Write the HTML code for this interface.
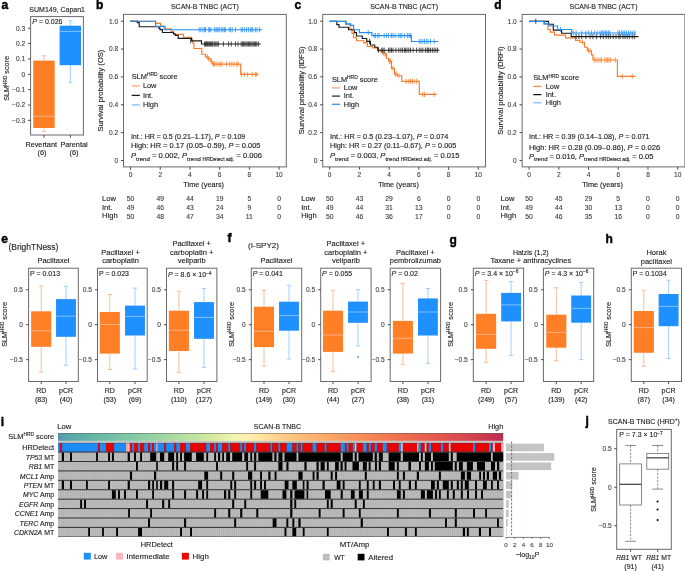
<!DOCTYPE html>
<html><head><meta charset="utf-8"><title>Figure</title>
<style>
html,body{margin:0;padding:0;background:#fff;width:685px;height:571px;overflow:hidden;}
svg{display:block;font-family:"Liberation Sans",sans-serif;will-change:transform;}
text:not([font-weight]):not([fill]){stroke:#2a2a2a;stroke-width:0.14px;}
text[fill="#3a3a3a"]{stroke:#3a3a3a;stroke-width:0.1px;}
</style></head><body>
<svg width="685" height="571" viewBox="0 0 685 571" fill="#1c1c1c">
<defs>
<linearGradient id="spec" x1="0" x2="1" y1="0" y2="0">
<stop offset="0.0000" stop-color="#5497AC"/>
<stop offset="0.0270" stop-color="#5BA6A9"/>
<stop offset="0.0831" stop-color="#66B8A6"/>
<stop offset="0.1617" stop-color="#82C8A5"/>
<stop offset="0.2291" stop-color="#9ED4A3"/>
<stop offset="0.3077" stop-color="#C2E3A1"/>
<stop offset="0.3639" stop-color="#DDEEA2"/>
<stop offset="0.3976" stop-color="#F2F5B0"/>
<stop offset="0.4200" stop-color="#FDF2B6"/>
<stop offset="0.4582" stop-color="#FEE3A0"/>
<stop offset="0.4987" stop-color="#FDCD88"/>
<stop offset="0.5885" stop-color="#FAAE6C"/>
<stop offset="0.6783" stop-color="#F68E58"/>
<stop offset="0.7682" stop-color="#EF704E"/>
<stop offset="0.8580" stop-color="#E3564F"/>
<stop offset="0.9479" stop-color="#D03E51"/>
<stop offset="1.0000" stop-color="#B82E4E"/>
</linearGradient>
</defs>
<text x="1.40" y="8.90" font-size="12" font-weight="bold" fill="#000" stroke="#000" stroke-width="0.45">a</text>
<text x="57.20" y="12.00" font-size="7" text-anchor="middle">SUM149, Capan1</text>
<line x1="44.00" y1="55.80" x2="44.00" y2="60.60" stroke="#FBB68C" stroke-width="0.9"/>
<line x1="44.00" y1="128.00" x2="44.00" y2="131.30" stroke="#FBB68C" stroke-width="0.9"/>
<line x1="41.85" y1="55.80" x2="46.15" y2="55.80" stroke="#FBB68C" stroke-width="0.9"/>
<line x1="41.85" y1="131.30" x2="46.15" y2="131.30" stroke="#FBB68C" stroke-width="0.9"/>
<rect x="33.20" y="60.60" width="21.50" height="67.40" fill="#FF7F27"/>
<line x1="33.20" y1="116.20" x2="54.70" y2="116.20" stroke="#FBB58A" stroke-width="0.9"/>
<line x1="70.40" y1="20.80" x2="70.40" y2="25.70" stroke="#98CAFF" stroke-width="0.9"/>
<line x1="70.40" y1="65.20" x2="70.40" y2="82.40" stroke="#98CAFF" stroke-width="0.9"/>
<line x1="68.25" y1="20.80" x2="72.55" y2="20.80" stroke="#98CAFF" stroke-width="0.9"/>
<line x1="68.25" y1="82.40" x2="72.55" y2="82.40" stroke="#98CAFF" stroke-width="0.9"/>
<rect x="59.60" y="25.70" width="21.40" height="39.50" fill="#1E90FF"/>
<line x1="59.60" y1="31.40" x2="81.00" y2="31.40" stroke="#8CC6FF" stroke-width="0.9"/>
<rect x="30.60" y="16.60" width="52.80" height="118.40" fill="none" stroke="#6a6a6a" stroke-width="1"/>
<line x1="28.00" y1="28.25" x2="30.60" y2="28.25" stroke="#3a3a3a" stroke-width="0.9"/>
<text x="25.10" y="30.65" font-size="6.6" text-anchor="end" fill="#3a3a3a">0.3</text>
<line x1="28.00" y1="43.60" x2="30.60" y2="43.60" stroke="#3a3a3a" stroke-width="0.9"/>
<text x="25.10" y="46.00" font-size="6.6" text-anchor="end" fill="#3a3a3a">0.2</text>
<line x1="28.00" y1="58.95" x2="30.60" y2="58.95" stroke="#3a3a3a" stroke-width="0.9"/>
<text x="25.10" y="61.35" font-size="6.6" text-anchor="end" fill="#3a3a3a">0.1</text>
<line x1="28.00" y1="74.30" x2="30.60" y2="74.30" stroke="#3a3a3a" stroke-width="0.9"/>
<text x="25.10" y="76.70" font-size="6.6" text-anchor="end" fill="#3a3a3a">0</text>
<line x1="28.00" y1="89.65" x2="30.60" y2="89.65" stroke="#3a3a3a" stroke-width="0.9"/>
<text x="25.10" y="92.05" font-size="6.6" text-anchor="end" fill="#3a3a3a">−0.1</text>
<line x1="28.00" y1="105.00" x2="30.60" y2="105.00" stroke="#3a3a3a" stroke-width="0.9"/>
<text x="25.10" y="107.40" font-size="6.6" text-anchor="end" fill="#3a3a3a">−0.2</text>
<line x1="28.00" y1="120.35" x2="30.60" y2="120.35" stroke="#3a3a3a" stroke-width="0.9"/>
<text x="25.10" y="122.75" font-size="6.6" text-anchor="end" fill="#3a3a3a">−0.3</text>
<line x1="44.00" y1="135.00" x2="44.00" y2="137.80" stroke="#3a3a3a" stroke-width="0.9"/>
<line x1="70.40" y1="135.00" x2="70.40" y2="137.80" stroke="#3a3a3a" stroke-width="0.9"/>
<text x="32.30" y="23.90" font-size="7"><tspan font-style="italic">P</tspan> = 0.026</text>
<text x="41.20" y="146.60" font-size="7.3" text-anchor="middle">Revertant</text>
<text x="42.00" y="155.20" font-size="7.3" text-anchor="middle">(6)</text>
<text x="74.00" y="146.60" font-size="7.3" text-anchor="middle">Parental</text>
<text x="74.00" y="155.20" font-size="7.3" text-anchor="middle">(6)</text>
<text transform="translate(9.20,78.40) rotate(-90)" font-size="7.2" text-anchor="middle">SLM<tspan dy="-2.7" font-size="4.75">HRD</tspan><tspan dy="2.7"> score</tspan></text>
<text x="96.00" y="8.80" font-size="12" font-weight="bold" fill="#000" stroke="#000" stroke-width="0.45">b</text>
<text x="204.90" y="9.20" font-size="7" text-anchor="middle">SCAN-B TNBC (ACT)</text>
<rect x="123.50" y="14.40" width="162.80" height="152.50" fill="none" stroke="#6a6a6a" stroke-width="1"/>
<line x1="120.90" y1="21.20" x2="123.50" y2="21.20" stroke="#3a3a3a" stroke-width="0.9"/>
<text x="118.10" y="23.60" font-size="6.6" text-anchor="end" fill="#3a3a3a">1.0</text>
<line x1="120.90" y1="49.05" x2="123.50" y2="49.05" stroke="#3a3a3a" stroke-width="0.9"/>
<text x="118.10" y="51.45" font-size="6.6" text-anchor="end" fill="#3a3a3a">0.8</text>
<line x1="120.90" y1="76.90" x2="123.50" y2="76.90" stroke="#3a3a3a" stroke-width="0.9"/>
<text x="118.10" y="79.30" font-size="6.6" text-anchor="end" fill="#3a3a3a">0.6</text>
<line x1="120.90" y1="104.75" x2="123.50" y2="104.75" stroke="#3a3a3a" stroke-width="0.9"/>
<text x="118.10" y="107.15" font-size="6.6" text-anchor="end" fill="#3a3a3a">0.4</text>
<line x1="120.90" y1="132.60" x2="123.50" y2="132.60" stroke="#3a3a3a" stroke-width="0.9"/>
<text x="118.10" y="135.00" font-size="6.6" text-anchor="end" fill="#3a3a3a">0.2</text>
<line x1="120.90" y1="160.45" x2="123.50" y2="160.45" stroke="#3a3a3a" stroke-width="0.9"/>
<text x="118.10" y="162.85" font-size="6.6" text-anchor="end" fill="#3a3a3a">0</text>
<line x1="130.50" y1="166.90" x2="130.50" y2="169.70" stroke="#3a3a3a" stroke-width="0.9"/>
<text x="130.50" y="176.60" font-size="6.6" text-anchor="middle" fill="#3a3a3a">0</text>
<line x1="160.22" y1="166.90" x2="160.22" y2="169.70" stroke="#3a3a3a" stroke-width="0.9"/>
<text x="160.22" y="176.60" font-size="6.6" text-anchor="middle" fill="#3a3a3a">2</text>
<line x1="189.94" y1="166.90" x2="189.94" y2="169.70" stroke="#3a3a3a" stroke-width="0.9"/>
<text x="189.94" y="176.60" font-size="6.6" text-anchor="middle" fill="#3a3a3a">4</text>
<line x1="219.66" y1="166.90" x2="219.66" y2="169.70" stroke="#3a3a3a" stroke-width="0.9"/>
<text x="219.66" y="176.60" font-size="6.6" text-anchor="middle" fill="#3a3a3a">6</text>
<line x1="249.38" y1="166.90" x2="249.38" y2="169.70" stroke="#3a3a3a" stroke-width="0.9"/>
<text x="249.38" y="176.60" font-size="6.6" text-anchor="middle" fill="#3a3a3a">8</text>
<line x1="279.10" y1="166.90" x2="279.10" y2="169.70" stroke="#3a3a3a" stroke-width="0.9"/>
<text x="279.10" y="176.60" font-size="6.6" text-anchor="middle" fill="#3a3a3a">10</text>
<text x="203.70" y="187.00" font-size="7.5" text-anchor="middle" textLength="40.7" lengthAdjust="spacingAndGlyphs">Time (years)</text>
<text transform="translate(103.00,90.60) rotate(-90)" font-size="7.3" text-anchor="middle" textLength="82.0" lengthAdjust="spacingAndGlyphs">Survival probability (OS)</text>
<path d="M130.30,21.20H155.60V23.40H160.60V26.30H165.30V28.80H171.10V31.40H173.50V34.30H183.40V37.20H191.60V40.10H192.70V43.00H193.90V48.50H201.80V54.20H205.50V56.80H208.10V58.90H210.80V61.50H212.30V64.10H240.70V74.40H258.60" fill="none" stroke="#FA7B28" stroke-width="1.15"/>
<path d="M130.30,21.20H137.30V22.60H139.20V26.70H158.90V28.10H160.00V29.60H162.40V32.50H173.50V33.70H175.20V35.40H178.20V38.40H191.60V40.90H201.50V44.00H260.70" fill="none" stroke="#1a1a1a" stroke-width="1.15"/>
<path d="M130.30,21.20H155.60V26.30H164.10V29.70H262.30" fill="none" stroke="#1E8EFA" stroke-width="1.15"/>
<path d="M207.30,54.20V59.40M208.60,56.30V61.50M211.20,58.90V64.10M213.40,61.50V66.70M214.40,61.50V66.70M216.00,61.50V66.70M218.10,61.50V66.70M220.20,61.50V66.70M221.80,61.50V66.70M226.50,61.50V66.70M229.70,61.50V66.70M231.80,61.50V66.70M233.90,61.50V66.70M236.50,61.50V66.70M238.10,61.50V66.70M241.40,71.80V77.00M244.40,71.80V77.00M247.60,71.80V77.00M252.30,71.80V77.00M255.40,71.80V77.00M256.30,71.80V77.00" stroke="#FA7B28" stroke-width="0.75" fill="none"/>
<path d="M190.60,38.30V43.50M204.50,41.40V46.60M205.50,41.40V46.60M206.50,41.40V46.60M207.50,41.40V46.60M208.60,41.40V46.60M209.60,41.40V46.60M210.60,41.40V46.60M211.60,41.40V46.60M212.60,41.40V46.60M214.00,41.40V46.60M215.00,41.40V46.60M216.00,41.40V46.60M217.20,41.40V46.60M218.40,41.40V46.60M223.40,41.40V46.60M228.60,41.40V46.60M231.30,41.40V46.60M235.50,41.40V46.60M238.00,41.40V46.60M241.20,41.40V46.60M242.40,41.40V46.60M243.60,41.40V46.60M244.80,41.40V46.60M246.00,41.40V46.60M247.20,41.40V46.60M248.40,41.40V46.60M249.60,41.40V46.60M250.80,41.40V46.60M252.00,41.40V46.60M253.20,41.40V46.60M254.40,41.40V46.60M255.60,41.40V46.60M256.80,41.40V46.60M258.40,41.40V46.60" stroke="#1a1a1a" stroke-width="0.75" fill="none"/>
<path d="M199.20,27.10V32.30M200.80,27.10V32.30M202.90,27.10V32.30M204.50,27.10V32.30M205.50,27.10V32.30M208.70,27.10V32.30M209.70,27.10V32.30M210.80,27.10V32.30M214.40,27.10V32.30M216.00,27.10V32.30M217.10,27.10V32.30M218.10,27.10V32.30M219.70,27.10V32.30M221.80,27.10V32.30M222.90,27.10V32.30M224.40,27.10V32.30M225.50,27.10V32.30M229.20,27.10V32.30M230.70,27.10V32.30M232.30,27.10V32.30M235.50,27.10V32.30M241.20,27.10V32.30M242.30,27.10V32.30M244.40,27.10V32.30M246.50,27.10V32.30M248.60,27.10V32.30M250.70,27.10V32.30M251.80,27.10V32.30M252.80,27.10V32.30M255.40,27.10V32.30M257.00,27.10V32.30M259.60,27.10V32.30" stroke="#1E8EFA" stroke-width="0.75" fill="none"/>
<text x="131.70" y="78.90" font-size="7.4">SLM<tspan dy="-2.7" font-size="4.88">HRD</tspan><tspan dy="2.7"> score</tspan></text>
<line x1="131.70" y1="85.90" x2="139.90" y2="85.90" stroke="#FCAA7A" stroke-width="1.3"/>
<text x="142.90" y="88.20" font-size="7.4">Low</text>
<line x1="131.70" y1="95.40" x2="139.90" y2="95.40" stroke="#1a1a1a" stroke-width="1.3"/>
<text x="142.90" y="97.70" font-size="7.4">Int.</text>
<line x1="131.70" y1="104.90" x2="139.90" y2="104.90" stroke="#7FBFFF" stroke-width="1.3"/>
<text x="142.90" y="107.20" font-size="7.4">High</text>
<text x="130.90" y="138.70" font-size="7.1" textLength="114.4" lengthAdjust="spacingAndGlyphs">Int.: HR = 0.5 (0.21–1.17), <tspan font-style="italic">P</tspan> = 0.109</text>
<text x="130.90" y="148.10" font-size="7.1" textLength="129.6" lengthAdjust="spacingAndGlyphs">High: HR = 0.17 (0.05–0.59), <tspan font-style="italic">P</tspan> = 0.005</text>
<text x="130.90" y="157.70" font-size="7.1" textLength="131.2" lengthAdjust="spacingAndGlyphs"><tspan font-style="italic">P</tspan><tspan dy="2.8" font-size="5.6">trend</tspan><tspan dy="-2.8"> = 0.002, </tspan><tspan font-style="italic">P</tspan><tspan dy="2.8" font-size="5.6">trend </tspan><tspan font-size="4.7">HRDetect adj.</tspan><tspan dy="-2.8"> = 0.006</tspan></text>
<text x="102.00" y="200.80" font-size="7.6">Low</text>
<text x="130.50" y="201.00" font-size="6.8" text-anchor="middle" fill="#3a3a3a">50</text>
<text x="160.22" y="201.00" font-size="6.8" text-anchor="middle" fill="#3a3a3a">49</text>
<text x="189.94" y="201.00" font-size="6.8" text-anchor="middle" fill="#3a3a3a">44</text>
<text x="219.66" y="201.00" font-size="6.8" text-anchor="middle" fill="#3a3a3a">19</text>
<text x="249.38" y="201.00" font-size="6.8" text-anchor="middle" fill="#3a3a3a">5</text>
<text x="279.10" y="201.00" font-size="6.8" text-anchor="middle" fill="#3a3a3a">0</text>
<text x="102.00" y="209.60" font-size="7.6">Int.</text>
<text x="130.50" y="209.80" font-size="6.8" text-anchor="middle" fill="#3a3a3a">49</text>
<text x="160.22" y="209.80" font-size="6.8" text-anchor="middle" fill="#3a3a3a">46</text>
<text x="189.94" y="209.80" font-size="6.8" text-anchor="middle" fill="#3a3a3a">43</text>
<text x="219.66" y="209.80" font-size="6.8" text-anchor="middle" fill="#3a3a3a">24</text>
<text x="249.38" y="209.80" font-size="6.8" text-anchor="middle" fill="#3a3a3a">9</text>
<text x="279.10" y="209.80" font-size="6.8" text-anchor="middle" fill="#3a3a3a">0</text>
<text x="102.00" y="218.40" font-size="7.6">High</text>
<text x="130.50" y="218.60" font-size="6.8" text-anchor="middle" fill="#3a3a3a">50</text>
<text x="160.22" y="218.60" font-size="6.8" text-anchor="middle" fill="#3a3a3a">48</text>
<text x="189.94" y="218.60" font-size="6.8" text-anchor="middle" fill="#3a3a3a">47</text>
<text x="219.66" y="218.60" font-size="6.8" text-anchor="middle" fill="#3a3a3a">34</text>
<text x="249.38" y="218.60" font-size="6.8" text-anchor="middle" fill="#3a3a3a">11</text>
<text x="279.10" y="218.60" font-size="6.8" text-anchor="middle" fill="#3a3a3a">0</text>
<text x="294.60" y="8.80" font-size="12" font-weight="bold" fill="#000" stroke="#000" stroke-width="0.45">c</text>
<text x="404.10" y="9.20" font-size="7" text-anchor="middle">SCAN-B TNBC (ACT)</text>
<rect x="322.70" y="14.40" width="162.80" height="152.50" fill="none" stroke="#6a6a6a" stroke-width="1"/>
<line x1="320.10" y1="21.20" x2="322.70" y2="21.20" stroke="#3a3a3a" stroke-width="0.9"/>
<text x="317.30" y="23.60" font-size="6.6" text-anchor="end" fill="#3a3a3a">1.0</text>
<line x1="320.10" y1="49.05" x2="322.70" y2="49.05" stroke="#3a3a3a" stroke-width="0.9"/>
<text x="317.30" y="51.45" font-size="6.6" text-anchor="end" fill="#3a3a3a">0.8</text>
<line x1="320.10" y1="76.90" x2="322.70" y2="76.90" stroke="#3a3a3a" stroke-width="0.9"/>
<text x="317.30" y="79.30" font-size="6.6" text-anchor="end" fill="#3a3a3a">0.6</text>
<line x1="320.10" y1="104.75" x2="322.70" y2="104.75" stroke="#3a3a3a" stroke-width="0.9"/>
<text x="317.30" y="107.15" font-size="6.6" text-anchor="end" fill="#3a3a3a">0.4</text>
<line x1="320.10" y1="132.60" x2="322.70" y2="132.60" stroke="#3a3a3a" stroke-width="0.9"/>
<text x="317.30" y="135.00" font-size="6.6" text-anchor="end" fill="#3a3a3a">0.2</text>
<line x1="320.10" y1="160.45" x2="322.70" y2="160.45" stroke="#3a3a3a" stroke-width="0.9"/>
<text x="317.30" y="162.85" font-size="6.6" text-anchor="end" fill="#3a3a3a">0</text>
<line x1="329.70" y1="166.90" x2="329.70" y2="169.70" stroke="#3a3a3a" stroke-width="0.9"/>
<text x="329.70" y="176.60" font-size="6.6" text-anchor="middle" fill="#3a3a3a">0</text>
<line x1="359.42" y1="166.90" x2="359.42" y2="169.70" stroke="#3a3a3a" stroke-width="0.9"/>
<text x="359.42" y="176.60" font-size="6.6" text-anchor="middle" fill="#3a3a3a">2</text>
<line x1="389.14" y1="166.90" x2="389.14" y2="169.70" stroke="#3a3a3a" stroke-width="0.9"/>
<text x="389.14" y="176.60" font-size="6.6" text-anchor="middle" fill="#3a3a3a">4</text>
<line x1="418.86" y1="166.90" x2="418.86" y2="169.70" stroke="#3a3a3a" stroke-width="0.9"/>
<text x="418.86" y="176.60" font-size="6.6" text-anchor="middle" fill="#3a3a3a">6</text>
<line x1="448.58" y1="166.90" x2="448.58" y2="169.70" stroke="#3a3a3a" stroke-width="0.9"/>
<text x="448.58" y="176.60" font-size="6.6" text-anchor="middle" fill="#3a3a3a">8</text>
<line x1="478.30" y1="166.90" x2="478.30" y2="169.70" stroke="#3a3a3a" stroke-width="0.9"/>
<text x="478.30" y="176.60" font-size="6.6" text-anchor="middle" fill="#3a3a3a">10</text>
<text x="398.50" y="187.00" font-size="7.5" text-anchor="middle" textLength="40.7" lengthAdjust="spacingAndGlyphs">Time (years)</text>
<text transform="translate(303.80,90.40) rotate(-90)" font-size="7.3" text-anchor="middle" textLength="87.8" lengthAdjust="spacingAndGlyphs">Survival probability (IDFS)</text>
<path d="M329.60,21.40H345.50V24.30H350.00V29.00H352.00V33.40H353.60V37.70H356.50V40.70H363.80V42.80H367.40V46.50H372.60V48.00H378.40V50.90H382.80V53.80H386.40V58.20H388.60V61.10H391.50V68.40H394.50V74.20H397.40V75.70H401.80V81.30H419.30V94.40H436.80" fill="none" stroke="#FA7B28" stroke-width="1.15"/>
<path d="M329.60,21.40H336.80V24.60H339.00V27.20H348.50V29.70H354.30V32.60H356.50V36.00H362.30V38.50H366.70V41.40H370.40V45.00H374.70V47.20H377.70V50.20H439.40" fill="none" stroke="#1a1a1a" stroke-width="1.15"/>
<path d="M329.60,21.40H346.30V23.90H350.70V25.30H353.60V29.70H359.40V32.60H371.80V35.60H411.40V41.50H438.20" fill="none" stroke="#1E8EFA" stroke-width="1.15"/>
<path d="M384.00,51.20V56.40M385.50,51.20V56.40M389.50,58.50V63.70M390.50,58.50V63.70M393.00,65.80V71.00M395.50,71.60V76.80M397.00,71.60V76.80M399.00,73.10V78.30M406.10,78.70V83.90M408.80,78.70V83.90M410.50,78.70V83.90M412.30,78.70V83.90M414.00,78.70V83.90M416.60,78.70V83.90M422.80,91.80V97.00M424.50,91.80V97.00M434.10,91.80V97.00" stroke="#FA7B28" stroke-width="0.75" fill="none"/>
<path d="M369.50,38.80V44.00M378.40,47.60V52.80M381.30,47.60V52.80M382.80,47.60V52.80M384.20,47.60V52.80M388.60,47.60V52.80M390.00,47.60V52.80M391.50,47.60V52.80M393.00,47.60V52.80M395.90,47.60V52.80M398.80,47.60V52.80M400.90,47.60V52.80M402.60,47.60V52.80M404.70,47.60V52.80M405.30,47.60V52.80M407.00,47.60V52.80M408.80,47.60V52.80M410.50,47.60V52.80M413.10,47.60V52.80M416.60,47.60V52.80M419.30,47.60V52.80M421.00,47.60V52.80M422.80,47.60V52.80M425.40,47.60V52.80M427.10,47.60V52.80M428.00,47.60V52.80M428.90,47.60V52.80M430.60,47.60V52.80M432.40,47.60V52.80M434.10,47.60V52.80M435.90,47.60V52.80M437.60,47.60V52.80" stroke="#1a1a1a" stroke-width="0.75" fill="none"/>
<path d="M368.20,30.00V35.20M374.00,33.00V38.20M375.50,33.00V38.20M377.70,33.00V38.20M379.10,33.00V38.20M384.20,33.00V38.20M386.40,33.00V38.20M388.60,33.00V38.20M391.50,33.00V38.20M393.00,33.00V38.20M395.20,33.00V38.20M398.80,33.00V38.20M400.30,33.00V38.20M401.80,33.00V38.20M404.70,33.00V38.20M407.60,33.00V38.20M409.10,33.00V38.20M410.50,33.00V38.20M419.30,38.90V44.10M421.00,38.90V44.10M422.80,38.90V44.10M424.50,38.90V44.10M426.30,38.90V44.10M428.00,38.90V44.10M430.60,38.90V44.10M434.10,38.90V44.10" stroke="#1E8EFA" stroke-width="0.75" fill="none"/>
<text x="331.90" y="81.70" font-size="7.4">SLM<tspan dy="-2.7" font-size="4.88">HRD</tspan><tspan dy="2.7"> score</tspan></text>
<line x1="331.90" y1="87.90" x2="340.10" y2="87.90" stroke="#FCAA7A" stroke-width="1.3"/>
<text x="343.80" y="90.20" font-size="7.4">Low</text>
<line x1="331.90" y1="96.10" x2="340.10" y2="96.10" stroke="#333333" stroke-width="1.3"/>
<text x="343.80" y="98.40" font-size="7.4">Int.</text>
<line x1="331.90" y1="104.30" x2="340.10" y2="104.30" stroke="#3594F5" stroke-width="1.3"/>
<text x="343.80" y="106.60" font-size="7.4">High</text>
<text x="329.90" y="138.70" font-size="7.1" textLength="118.5" lengthAdjust="spacingAndGlyphs">Int.: HR = 0.5 (0.23–1.07), <tspan font-style="italic">P</tspan> = 0.074</text>
<text x="329.90" y="148.10" font-size="7.1" textLength="126.5" lengthAdjust="spacingAndGlyphs">High: HR = 0.27 (0.11–0.67), <tspan font-style="italic">P</tspan> = 0.005</text>
<text x="329.90" y="157.70" font-size="7.1" textLength="129.6" lengthAdjust="spacingAndGlyphs"><tspan font-style="italic">P</tspan><tspan dy="2.8" font-size="5.6">trend</tspan><tspan dy="-2.8"> = 0.003, </tspan><tspan font-style="italic">P</tspan><tspan dy="2.8" font-size="5.6">trend </tspan><tspan font-size="4.7">HRDetect adj.</tspan><tspan dy="-2.8"> = 0.015</tspan></text>
<text x="301.20" y="200.80" font-size="7.6">Low</text>
<text x="329.70" y="201.00" font-size="6.8" text-anchor="middle" fill="#3a3a3a">50</text>
<text x="359.42" y="201.00" font-size="6.8" text-anchor="middle" fill="#3a3a3a">43</text>
<text x="389.14" y="201.00" font-size="6.8" text-anchor="middle" fill="#3a3a3a">29</text>
<text x="418.86" y="201.00" font-size="6.8" text-anchor="middle" fill="#3a3a3a">6</text>
<text x="448.58" y="201.00" font-size="6.8" text-anchor="middle" fill="#3a3a3a">0</text>
<text x="478.30" y="201.00" font-size="6.8" text-anchor="middle" fill="#3a3a3a">0</text>
<text x="301.20" y="209.60" font-size="7.6">Int.</text>
<text x="329.70" y="209.80" font-size="6.8" text-anchor="middle" fill="#3a3a3a">49</text>
<text x="359.42" y="209.80" font-size="6.8" text-anchor="middle" fill="#3a3a3a">44</text>
<text x="389.14" y="209.80" font-size="6.8" text-anchor="middle" fill="#3a3a3a">31</text>
<text x="418.86" y="209.80" font-size="6.8" text-anchor="middle" fill="#3a3a3a">13</text>
<text x="448.58" y="209.80" font-size="6.8" text-anchor="middle" fill="#3a3a3a">0</text>
<text x="478.30" y="209.80" font-size="6.8" text-anchor="middle" fill="#3a3a3a">0</text>
<text x="301.20" y="218.40" font-size="7.6">High</text>
<text x="329.70" y="218.60" font-size="6.8" text-anchor="middle" fill="#3a3a3a">50</text>
<text x="359.42" y="218.60" font-size="6.8" text-anchor="middle" fill="#3a3a3a">46</text>
<text x="389.14" y="218.60" font-size="6.8" text-anchor="middle" fill="#3a3a3a">36</text>
<text x="418.86" y="218.60" font-size="6.8" text-anchor="middle" fill="#3a3a3a">17</text>
<text x="448.58" y="218.60" font-size="6.8" text-anchor="middle" fill="#3a3a3a">0</text>
<text x="478.30" y="218.60" font-size="6.8" text-anchor="middle" fill="#3a3a3a">0</text>
<text x="494.20" y="8.80" font-size="12" font-weight="bold" fill="#000" stroke="#000" stroke-width="0.45">d</text>
<text x="603.50" y="9.20" font-size="7" text-anchor="middle">SCAN-B TNBC (ACT)</text>
<rect x="522.10" y="14.40" width="162.80" height="152.50" fill="none" stroke="#6a6a6a" stroke-width="1"/>
<line x1="519.50" y1="21.20" x2="522.10" y2="21.20" stroke="#3a3a3a" stroke-width="0.9"/>
<text x="516.70" y="23.60" font-size="6.6" text-anchor="end" fill="#3a3a3a">1.0</text>
<line x1="519.50" y1="49.05" x2="522.10" y2="49.05" stroke="#3a3a3a" stroke-width="0.9"/>
<text x="516.70" y="51.45" font-size="6.6" text-anchor="end" fill="#3a3a3a">0.8</text>
<line x1="519.50" y1="76.90" x2="522.10" y2="76.90" stroke="#3a3a3a" stroke-width="0.9"/>
<text x="516.70" y="79.30" font-size="6.6" text-anchor="end" fill="#3a3a3a">0.6</text>
<line x1="519.50" y1="104.75" x2="522.10" y2="104.75" stroke="#3a3a3a" stroke-width="0.9"/>
<text x="516.70" y="107.15" font-size="6.6" text-anchor="end" fill="#3a3a3a">0.4</text>
<line x1="519.50" y1="132.60" x2="522.10" y2="132.60" stroke="#3a3a3a" stroke-width="0.9"/>
<text x="516.70" y="135.00" font-size="6.6" text-anchor="end" fill="#3a3a3a">0.2</text>
<line x1="519.50" y1="160.45" x2="522.10" y2="160.45" stroke="#3a3a3a" stroke-width="0.9"/>
<text x="516.70" y="162.85" font-size="6.6" text-anchor="end" fill="#3a3a3a">0</text>
<line x1="529.10" y1="166.90" x2="529.10" y2="169.70" stroke="#3a3a3a" stroke-width="0.9"/>
<text x="529.10" y="176.60" font-size="6.6" text-anchor="middle" fill="#3a3a3a">0</text>
<line x1="558.82" y1="166.90" x2="558.82" y2="169.70" stroke="#3a3a3a" stroke-width="0.9"/>
<text x="558.82" y="176.60" font-size="6.6" text-anchor="middle" fill="#3a3a3a">2</text>
<line x1="588.54" y1="166.90" x2="588.54" y2="169.70" stroke="#3a3a3a" stroke-width="0.9"/>
<text x="588.54" y="176.60" font-size="6.6" text-anchor="middle" fill="#3a3a3a">4</text>
<line x1="618.26" y1="166.90" x2="618.26" y2="169.70" stroke="#3a3a3a" stroke-width="0.9"/>
<text x="618.26" y="176.60" font-size="6.6" text-anchor="middle" fill="#3a3a3a">6</text>
<line x1="647.98" y1="166.90" x2="647.98" y2="169.70" stroke="#3a3a3a" stroke-width="0.9"/>
<text x="647.98" y="176.60" font-size="6.6" text-anchor="middle" fill="#3a3a3a">8</text>
<line x1="677.70" y1="166.90" x2="677.70" y2="169.70" stroke="#3a3a3a" stroke-width="0.9"/>
<text x="677.70" y="176.60" font-size="6.6" text-anchor="middle" fill="#3a3a3a">10</text>
<text x="602.50" y="187.00" font-size="7.5" text-anchor="middle" textLength="40.7" lengthAdjust="spacingAndGlyphs">Time (years)</text>
<text transform="translate(503.30,90.65) rotate(-90)" font-size="7.3" text-anchor="middle" textLength="88.3" lengthAdjust="spacingAndGlyphs">Survival probability (DRFI)</text>
<path d="M529.20,21.30H543.60V23.80H548.00V29.50H550.20V32.10H554.60V35.10H565.50V37.80H575.60V40.40H580.00V42.20H584.50V47.20H587.30V50.70H591.50V54.90H592.90V60.00H617.40V76.40H635.70" fill="none" stroke="#FA7B28" stroke-width="1.15"/>
<path d="M529.20,21.30H548.50V24.20H553.30V30.10H561.60V33.20H571.20V36.60H638.50" fill="none" stroke="#1a1a1a" stroke-width="1.15"/>
<path d="M529.20,21.30H544.50V23.80H549.30V26.00H557.70V29.50H571.70V33.00H635.70" fill="none" stroke="#1E8EFA" stroke-width="1.15"/>
<path d="M582.50,39.60V44.80M588.50,48.10V53.30M590.00,48.10V53.30M594.30,57.40V62.60M596.00,57.40V62.60M598.00,57.40V62.60M600.00,57.40V62.60M601.50,57.40V62.60M604.80,57.40V62.60M606.20,57.40V62.60M607.60,57.40V62.60M609.00,57.40V62.60M610.40,57.40V62.60M615.30,57.40V62.60M622.30,73.80V79.00M632.20,73.80V79.00" stroke="#FA7B28" stroke-width="0.75" fill="none"/>
<path d="M535.80,18.70V23.90M576.10,34.00V39.20M578.90,34.00V39.20M581.70,34.00V39.20M585.90,34.00V39.20M590.10,34.00V39.20M592.90,34.00V39.20M596.40,34.00V39.20M600.60,34.00V39.20M603.40,34.00V39.20M606.20,34.00V39.20M608.30,34.00V39.20M610.40,34.00V39.20M613.20,34.00V39.20M616.00,34.00V39.20M618.80,34.00V39.20M620.20,34.00V39.20M623.00,34.00V39.20M625.10,34.00V39.20M627.20,34.00V39.20M629.30,34.00V39.20M632.20,34.00V39.20M634.30,34.00V39.20" stroke="#1a1a1a" stroke-width="0.75" fill="none"/>
<path d="M560.50,26.90V32.10M573.30,30.40V35.60M576.10,30.40V35.60M581.70,30.40V35.60M585.90,30.40V35.60M588.70,30.40V35.60M591.50,30.40V35.60M594.30,30.40V35.60M597.10,30.40V35.60M599.90,30.40V35.60M601.30,30.40V35.60M602.70,30.40V35.60M604.10,30.40V35.60M605.50,30.40V35.60M606.90,30.40V35.60M608.30,30.40V35.60M609.70,30.40V35.60M618.10,30.40V35.60M619.50,30.40V35.60M621.60,30.40V35.60M623.00,30.40V35.60M624.40,30.40V35.60M626.50,30.40V35.60M628.60,30.40V35.60M630.70,30.40V35.60M632.90,30.40V35.60M635.00,30.40V35.60" stroke="#1E8EFA" stroke-width="0.75" fill="none"/>
<text x="533.20" y="80.20" font-size="7.4">SLM<tspan dy="-2.7" font-size="4.88">HRD</tspan><tspan dy="2.7"> score</tspan></text>
<line x1="533.20" y1="86.40" x2="541.40" y2="86.40" stroke="#F68C44" stroke-width="1.3"/>
<text x="545.70" y="88.70" font-size="7.4">Low</text>
<line x1="533.20" y1="94.60" x2="541.40" y2="94.60" stroke="#1a1a1a" stroke-width="1.3"/>
<text x="545.70" y="96.90" font-size="7.4">Int.</text>
<line x1="533.20" y1="102.80" x2="541.40" y2="102.80" stroke="#7FBFFF" stroke-width="1.3"/>
<text x="545.70" y="105.10" font-size="7.4">High</text>
<text x="528.90" y="138.70" font-size="7.1" textLength="120.6" lengthAdjust="spacingAndGlyphs">Int.: HR = 0.39 (0.14–1.08), <tspan font-style="italic">P</tspan> = 0.071</text>
<text x="528.90" y="149.50" font-size="7.1" textLength="131.2" lengthAdjust="spacingAndGlyphs">High: HR = 0.28 (0.09–0.86), <tspan font-style="italic">P</tspan> = 0.026</text>
<text x="528.90" y="158.60" font-size="7.1" textLength="124.6" lengthAdjust="spacingAndGlyphs"><tspan font-style="italic">P</tspan><tspan dy="2.8" font-size="5.6">trend</tspan><tspan dy="-2.8"> = 0.016, </tspan><tspan font-style="italic">P</tspan><tspan dy="2.8" font-size="5.6">trend </tspan><tspan font-size="4.7">HRDetect adj.</tspan><tspan dy="-2.8"> = 0.05</tspan></text>
<text x="500.60" y="200.80" font-size="7.6">Low</text>
<text x="529.10" y="201.00" font-size="6.8" text-anchor="middle" fill="#3a3a3a">50</text>
<text x="558.82" y="201.00" font-size="6.8" text-anchor="middle" fill="#3a3a3a">45</text>
<text x="588.54" y="201.00" font-size="6.8" text-anchor="middle" fill="#3a3a3a">29</text>
<text x="618.26" y="201.00" font-size="6.8" text-anchor="middle" fill="#3a3a3a">5</text>
<text x="647.98" y="201.00" font-size="6.8" text-anchor="middle" fill="#3a3a3a">0</text>
<text x="677.70" y="201.00" font-size="6.8" text-anchor="middle" fill="#3a3a3a">0</text>
<text x="500.60" y="209.60" font-size="7.6">Int.</text>
<text x="529.10" y="209.80" font-size="6.8" text-anchor="middle" fill="#3a3a3a">49</text>
<text x="558.82" y="209.80" font-size="6.8" text-anchor="middle" fill="#3a3a3a">44</text>
<text x="588.54" y="209.80" font-size="6.8" text-anchor="middle" fill="#3a3a3a">30</text>
<text x="618.26" y="209.80" font-size="6.8" text-anchor="middle" fill="#3a3a3a">13</text>
<text x="647.98" y="209.80" font-size="6.8" text-anchor="middle" fill="#3a3a3a">0</text>
<text x="677.70" y="209.80" font-size="6.8" text-anchor="middle" fill="#3a3a3a">0</text>
<text x="500.60" y="218.40" font-size="7.6">High</text>
<text x="529.10" y="218.60" font-size="6.8" text-anchor="middle" fill="#3a3a3a">50</text>
<text x="558.82" y="218.60" font-size="6.8" text-anchor="middle" fill="#3a3a3a">46</text>
<text x="588.54" y="218.60" font-size="6.8" text-anchor="middle" fill="#3a3a3a">35</text>
<text x="618.26" y="218.60" font-size="6.8" text-anchor="middle" fill="#3a3a3a">16</text>
<text x="647.98" y="218.60" font-size="6.8" text-anchor="middle" fill="#3a3a3a">0</text>
<text x="677.70" y="218.60" font-size="6.8" text-anchor="middle" fill="#3a3a3a">0</text>
<text x="1.20" y="242.60" font-size="12" font-weight="bold" fill="#000" stroke="#000" stroke-width="0.45">e</text>
<text x="8.40" y="249.60" font-size="8.5">(BrighTNess)</text>
<text transform="translate(6.70,324.40) rotate(-90)" font-size="7.2" text-anchor="middle">SLM<tspan dy="-2.7" font-size="4.75">HRD</tspan><tspan dy="2.7"> score</tspan></text>
<text x="53.45" y="263.00" font-size="7.5" text-anchor="middle">Paclitaxel</text>
<line x1="41.20" y1="286.00" x2="41.20" y2="311.30" stroke="#FBB68C" stroke-width="0.9"/>
<line x1="41.20" y1="346.80" x2="41.20" y2="372.20" stroke="#FBB68C" stroke-width="0.9"/>
<line x1="39.00" y1="286.00" x2="43.40" y2="286.00" stroke="#FBB68C" stroke-width="0.9"/>
<line x1="39.00" y1="372.20" x2="43.40" y2="372.20" stroke="#FBB68C" stroke-width="0.9"/>
<rect x="31.15" y="311.30" width="20.10" height="35.50" fill="#FF7F27"/>
<line x1="31.15" y1="330.70" x2="51.25" y2="330.70" stroke="#FBB58A" stroke-width="0.9"/>
<line x1="66.00" y1="286.30" x2="66.00" y2="299.10" stroke="#98CAFF" stroke-width="0.9"/>
<line x1="66.00" y1="336.80" x2="66.00" y2="365.30" stroke="#98CAFF" stroke-width="0.9"/>
<line x1="63.80" y1="286.30" x2="68.20" y2="286.30" stroke="#98CAFF" stroke-width="0.9"/>
<line x1="63.80" y1="365.30" x2="68.20" y2="365.30" stroke="#98CAFF" stroke-width="0.9"/>
<rect x="56.05" y="299.10" width="19.90" height="37.70" fill="#1E90FF"/>
<line x1="56.05" y1="316.20" x2="75.95" y2="316.20" stroke="#8CC6FF" stroke-width="0.9"/>
<rect x="28.60" y="268.20" width="49.70" height="113.30" fill="none" stroke="#6a6a6a" stroke-width="1"/>
<line x1="26.10" y1="289.75" x2="28.60" y2="289.75" stroke="#3a3a3a" stroke-width="0.9"/>
<text x="23.00" y="292.15" font-size="6.6" text-anchor="end" fill="#3a3a3a">0.5</text>
<line x1="26.10" y1="324.70" x2="28.60" y2="324.70" stroke="#3a3a3a" stroke-width="0.9"/>
<text x="23.00" y="327.10" font-size="6.6" text-anchor="end" fill="#3a3a3a">0</text>
<line x1="26.10" y1="359.65" x2="28.60" y2="359.65" stroke="#3a3a3a" stroke-width="0.9"/>
<text x="23.00" y="362.05" font-size="6.6" text-anchor="end" fill="#3a3a3a">−0.5</text>
<line x1="41.20" y1="381.50" x2="41.20" y2="384.10" stroke="#3a3a3a" stroke-width="0.9"/>
<line x1="66.00" y1="381.50" x2="66.00" y2="384.10" stroke="#3a3a3a" stroke-width="0.9"/>
<text x="41.20" y="392.90" font-size="7" text-anchor="middle">RD</text>
<text x="66.00" y="392.90" font-size="7" text-anchor="middle">pCR</text>
<text x="41.20" y="401.50" font-size="7" text-anchor="middle">(83)</text>
<text x="66.00" y="401.50" font-size="7" text-anchor="middle">(40)</text>
<text x="30.00" y="275.60" font-size="7">P = 0.013</text>
<text x="120.55" y="254.70" font-size="7.5" text-anchor="middle">Paclitaxel +</text>
<text x="120.55" y="263.00" font-size="7.5" text-anchor="middle">carboplatin</text>
<line x1="109.80" y1="294.60" x2="109.80" y2="312.00" stroke="#FBB68C" stroke-width="0.9"/>
<line x1="109.80" y1="353.60" x2="109.80" y2="369.60" stroke="#FBB68C" stroke-width="0.9"/>
<line x1="107.60" y1="294.60" x2="112.00" y2="294.60" stroke="#FBB68C" stroke-width="0.9"/>
<line x1="107.60" y1="369.60" x2="112.00" y2="369.60" stroke="#FBB68C" stroke-width="0.9"/>
<rect x="99.75" y="312.00" width="20.10" height="41.60" fill="#FF7F27"/>
<line x1="99.75" y1="324.50" x2="119.85" y2="324.50" stroke="#FBB58A" stroke-width="0.9"/>
<line x1="135.00" y1="288.10" x2="135.00" y2="305.60" stroke="#98CAFF" stroke-width="0.9"/>
<line x1="135.00" y1="335.50" x2="135.00" y2="369.00" stroke="#98CAFF" stroke-width="0.9"/>
<line x1="132.80" y1="288.10" x2="137.20" y2="288.10" stroke="#98CAFF" stroke-width="0.9"/>
<line x1="132.80" y1="369.00" x2="137.20" y2="369.00" stroke="#98CAFF" stroke-width="0.9"/>
<rect x="125.05" y="305.60" width="19.90" height="29.90" fill="#1E90FF"/>
<line x1="125.05" y1="316.40" x2="144.95" y2="316.40" stroke="#8CC6FF" stroke-width="0.9"/>
<rect x="97.50" y="268.20" width="49.70" height="113.30" fill="none" stroke="#6a6a6a" stroke-width="1"/>
<line x1="95.00" y1="289.75" x2="97.50" y2="289.75" stroke="#3a3a3a" stroke-width="0.9"/>
<text x="91.90" y="292.15" font-size="6.6" text-anchor="end" fill="#3a3a3a">0.5</text>
<line x1="95.00" y1="324.70" x2="97.50" y2="324.70" stroke="#3a3a3a" stroke-width="0.9"/>
<text x="91.90" y="327.10" font-size="6.6" text-anchor="end" fill="#3a3a3a">0</text>
<line x1="95.00" y1="359.65" x2="97.50" y2="359.65" stroke="#3a3a3a" stroke-width="0.9"/>
<text x="91.90" y="362.05" font-size="6.6" text-anchor="end" fill="#3a3a3a">−0.5</text>
<line x1="109.80" y1="381.50" x2="109.80" y2="384.10" stroke="#3a3a3a" stroke-width="0.9"/>
<line x1="135.00" y1="381.50" x2="135.00" y2="384.10" stroke="#3a3a3a" stroke-width="0.9"/>
<text x="109.80" y="392.90" font-size="7" text-anchor="middle">RD</text>
<text x="135.00" y="392.90" font-size="7" text-anchor="middle">pCR</text>
<text x="109.80" y="401.50" font-size="7" text-anchor="middle">(53)</text>
<text x="135.00" y="401.50" font-size="7" text-anchor="middle">(69)</text>
<text x="98.90" y="275.60" font-size="7">P = 0.023</text>
<text x="191.70" y="246.40" font-size="7.5" text-anchor="middle">Paclitaxel +</text>
<text x="191.70" y="254.70" font-size="7.5" text-anchor="middle">carboplatin +</text>
<text x="191.70" y="263.00" font-size="7.5" text-anchor="middle">veliparib</text>
<line x1="178.90" y1="291.30" x2="178.90" y2="310.70" stroke="#FBB68C" stroke-width="0.9"/>
<line x1="178.90" y1="351.00" x2="178.90" y2="372.30" stroke="#FBB68C" stroke-width="0.9"/>
<line x1="176.70" y1="291.30" x2="181.10" y2="291.30" stroke="#FBB68C" stroke-width="0.9"/>
<line x1="176.70" y1="372.30" x2="181.10" y2="372.30" stroke="#FBB68C" stroke-width="0.9"/>
<rect x="168.85" y="310.70" width="20.10" height="40.30" fill="#FF7F27"/>
<line x1="168.85" y1="330.20" x2="188.95" y2="330.20" stroke="#FBB58A" stroke-width="0.9"/>
<line x1="204.00" y1="288.50" x2="204.00" y2="302.10" stroke="#98CAFF" stroke-width="0.9"/>
<line x1="204.00" y1="338.80" x2="204.00" y2="367.40" stroke="#98CAFF" stroke-width="0.9"/>
<line x1="201.80" y1="288.50" x2="206.20" y2="288.50" stroke="#98CAFF" stroke-width="0.9"/>
<line x1="201.80" y1="367.40" x2="206.20" y2="367.40" stroke="#98CAFF" stroke-width="0.9"/>
<rect x="194.05" y="302.10" width="19.90" height="36.70" fill="#1E90FF"/>
<line x1="194.05" y1="317.40" x2="213.95" y2="317.40" stroke="#8CC6FF" stroke-width="0.9"/>
<rect x="166.50" y="268.20" width="50.40" height="113.30" fill="none" stroke="#6a6a6a" stroke-width="1"/>
<line x1="164.00" y1="289.75" x2="166.50" y2="289.75" stroke="#3a3a3a" stroke-width="0.9"/>
<text x="160.90" y="292.15" font-size="6.6" text-anchor="end" fill="#3a3a3a">0.5</text>
<line x1="164.00" y1="324.70" x2="166.50" y2="324.70" stroke="#3a3a3a" stroke-width="0.9"/>
<text x="160.90" y="327.10" font-size="6.6" text-anchor="end" fill="#3a3a3a">0</text>
<line x1="164.00" y1="359.65" x2="166.50" y2="359.65" stroke="#3a3a3a" stroke-width="0.9"/>
<text x="160.90" y="362.05" font-size="6.6" text-anchor="end" fill="#3a3a3a">−0.5</text>
<line x1="178.90" y1="381.50" x2="178.90" y2="384.10" stroke="#3a3a3a" stroke-width="0.9"/>
<line x1="204.00" y1="381.50" x2="204.00" y2="384.10" stroke="#3a3a3a" stroke-width="0.9"/>
<text x="178.90" y="392.90" font-size="7" text-anchor="middle">RD</text>
<text x="204.00" y="392.90" font-size="7" text-anchor="middle">pCR</text>
<text x="178.90" y="401.50" font-size="7" text-anchor="middle">(110)</text>
<text x="204.00" y="401.50" font-size="7" text-anchor="middle">(127)</text>
<text x="167.90" y="277.40" font-size="7"><tspan font-style="italic">P</tspan> = 8.6 × 10<tspan dy="-2.6" font-size="4.8">−4</tspan></text>
<text x="227.60" y="242.30" font-size="12" font-weight="bold" fill="#000" stroke="#000" stroke-width="0.45">f</text>
<text x="248.00" y="247.80" font-size="8.1">(I-SPY2)</text>
<text transform="translate(233.70,324.40) rotate(-90)" font-size="7.2" text-anchor="middle">SLM<tspan dy="-2.7" font-size="4.75">HRD</tspan><tspan dy="2.7"> score</tspan></text>
<text x="276.50" y="263.00" font-size="7.5" text-anchor="middle">Paclitaxel</text>
<line x1="264.00" y1="290.30" x2="264.00" y2="306.70" stroke="#FBB68C" stroke-width="0.9"/>
<line x1="264.00" y1="347.10" x2="264.00" y2="366.10" stroke="#FBB68C" stroke-width="0.9"/>
<line x1="261.80" y1="290.30" x2="266.20" y2="290.30" stroke="#FBB68C" stroke-width="0.9"/>
<line x1="261.80" y1="366.10" x2="266.20" y2="366.10" stroke="#FBB68C" stroke-width="0.9"/>
<rect x="253.95" y="306.70" width="20.10" height="40.40" fill="#FF7F27"/>
<line x1="253.95" y1="331.30" x2="274.05" y2="331.30" stroke="#FBB58A" stroke-width="0.9"/>
<line x1="289.00" y1="285.20" x2="289.00" y2="301.70" stroke="#98CAFF" stroke-width="0.9"/>
<line x1="289.00" y1="330.70" x2="289.00" y2="359.10" stroke="#98CAFF" stroke-width="0.9"/>
<line x1="286.80" y1="285.20" x2="291.20" y2="285.20" stroke="#98CAFF" stroke-width="0.9"/>
<line x1="286.80" y1="359.10" x2="291.20" y2="359.10" stroke="#98CAFF" stroke-width="0.9"/>
<rect x="279.05" y="301.70" width="19.90" height="29.00" fill="#1E90FF"/>
<line x1="279.05" y1="315.60" x2="298.95" y2="315.60" stroke="#8CC6FF" stroke-width="0.9"/>
<rect x="251.30" y="268.20" width="50.40" height="113.30" fill="none" stroke="#6a6a6a" stroke-width="1"/>
<line x1="248.80" y1="289.75" x2="251.30" y2="289.75" stroke="#3a3a3a" stroke-width="0.9"/>
<text x="245.70" y="292.15" font-size="6.6" text-anchor="end" fill="#3a3a3a">0.5</text>
<line x1="248.80" y1="324.70" x2="251.30" y2="324.70" stroke="#3a3a3a" stroke-width="0.9"/>
<text x="245.70" y="327.10" font-size="6.6" text-anchor="end" fill="#3a3a3a">0</text>
<line x1="248.80" y1="359.65" x2="251.30" y2="359.65" stroke="#3a3a3a" stroke-width="0.9"/>
<text x="245.70" y="362.05" font-size="6.6" text-anchor="end" fill="#3a3a3a">−0.5</text>
<line x1="264.00" y1="381.50" x2="264.00" y2="384.10" stroke="#3a3a3a" stroke-width="0.9"/>
<line x1="289.00" y1="381.50" x2="289.00" y2="384.10" stroke="#3a3a3a" stroke-width="0.9"/>
<text x="264.00" y="392.90" font-size="7" text-anchor="middle">RD</text>
<text x="289.00" y="392.90" font-size="7" text-anchor="middle">pCR</text>
<text x="264.00" y="401.50" font-size="7" text-anchor="middle">(149)</text>
<text x="289.00" y="401.50" font-size="7" text-anchor="middle">(30)</text>
<text x="252.70" y="275.60" font-size="7"><tspan font-style="italic">P</tspan> = 0.041</text>
<text x="345.90" y="246.40" font-size="7.5" text-anchor="middle">Paclitaxel +</text>
<text x="345.90" y="254.70" font-size="7.5" text-anchor="middle">carboplatin +</text>
<text x="345.90" y="263.00" font-size="7.5" text-anchor="middle">veliparib</text>
<line x1="333.00" y1="290.30" x2="333.00" y2="310.70" stroke="#FBB68C" stroke-width="0.9"/>
<line x1="333.00" y1="351.90" x2="333.00" y2="371.60" stroke="#FBB68C" stroke-width="0.9"/>
<line x1="330.80" y1="290.30" x2="335.20" y2="290.30" stroke="#FBB68C" stroke-width="0.9"/>
<line x1="330.80" y1="371.60" x2="335.20" y2="371.60" stroke="#FBB68C" stroke-width="0.9"/>
<rect x="322.95" y="310.70" width="20.10" height="41.20" fill="#FF7F27"/>
<line x1="322.95" y1="335.00" x2="343.05" y2="335.00" stroke="#FBB58A" stroke-width="0.9"/>
<line x1="358.00" y1="289.60" x2="358.00" y2="301.60" stroke="#98CAFF" stroke-width="0.9"/>
<line x1="358.00" y1="322.80" x2="358.00" y2="346.00" stroke="#98CAFF" stroke-width="0.9"/>
<line x1="355.80" y1="289.60" x2="360.20" y2="289.60" stroke="#98CAFF" stroke-width="0.9"/>
<line x1="355.80" y1="346.00" x2="360.20" y2="346.00" stroke="#98CAFF" stroke-width="0.9"/>
<rect x="348.05" y="301.60" width="19.90" height="21.20" fill="#1E90FF"/>
<line x1="348.05" y1="312.00" x2="367.95" y2="312.00" stroke="#8CC6FF" stroke-width="0.9"/>
<circle cx="358.00" cy="356.90" r="0.9" fill="#1E90FF"/>
<rect x="320.70" y="268.20" width="50.40" height="113.30" fill="none" stroke="#6a6a6a" stroke-width="1"/>
<line x1="318.20" y1="289.75" x2="320.70" y2="289.75" stroke="#3a3a3a" stroke-width="0.9"/>
<text x="315.10" y="292.15" font-size="6.6" text-anchor="end" fill="#3a3a3a">0.5</text>
<line x1="318.20" y1="324.70" x2="320.70" y2="324.70" stroke="#3a3a3a" stroke-width="0.9"/>
<text x="315.10" y="327.10" font-size="6.6" text-anchor="end" fill="#3a3a3a">0</text>
<line x1="318.20" y1="359.65" x2="320.70" y2="359.65" stroke="#3a3a3a" stroke-width="0.9"/>
<text x="315.10" y="362.05" font-size="6.6" text-anchor="end" fill="#3a3a3a">−0.5</text>
<line x1="333.00" y1="381.50" x2="333.00" y2="384.10" stroke="#3a3a3a" stroke-width="0.9"/>
<line x1="358.00" y1="381.50" x2="358.00" y2="384.10" stroke="#3a3a3a" stroke-width="0.9"/>
<text x="333.00" y="392.90" font-size="7" text-anchor="middle">RD</text>
<text x="358.00" y="392.90" font-size="7" text-anchor="middle">pCR</text>
<text x="333.00" y="401.50" font-size="7" text-anchor="middle">(44)</text>
<text x="358.00" y="401.50" font-size="7" text-anchor="middle">(27)</text>
<text x="322.10" y="275.60" font-size="7"><tspan font-style="italic">P</tspan> = 0.055</text>
<text x="415.40" y="254.70" font-size="7.5" text-anchor="middle">Paclitaxel +</text>
<text x="415.40" y="263.00" font-size="7.5" text-anchor="middle">pembrolizumab</text>
<line x1="402.90" y1="283.50" x2="402.90" y2="320.90" stroke="#FBB68C" stroke-width="0.9"/>
<line x1="402.90" y1="353.60" x2="402.90" y2="364.60" stroke="#FBB68C" stroke-width="0.9"/>
<line x1="400.70" y1="283.50" x2="405.10" y2="283.50" stroke="#FBB68C" stroke-width="0.9"/>
<line x1="400.70" y1="364.60" x2="405.10" y2="364.60" stroke="#FBB68C" stroke-width="0.9"/>
<rect x="392.85" y="320.90" width="20.10" height="32.70" fill="#FF7F27"/>
<line x1="392.85" y1="338.30" x2="412.95" y2="338.30" stroke="#FBB58A" stroke-width="0.9"/>
<line x1="427.90" y1="288.50" x2="427.90" y2="298.40" stroke="#98CAFF" stroke-width="0.9"/>
<line x1="427.90" y1="335.50" x2="427.90" y2="363.50" stroke="#98CAFF" stroke-width="0.9"/>
<line x1="425.70" y1="288.50" x2="430.10" y2="288.50" stroke="#98CAFF" stroke-width="0.9"/>
<line x1="425.70" y1="363.50" x2="430.10" y2="363.50" stroke="#98CAFF" stroke-width="0.9"/>
<rect x="417.95" y="298.40" width="19.90" height="37.10" fill="#1E90FF"/>
<line x1="417.95" y1="312.00" x2="437.85" y2="312.00" stroke="#8CC6FF" stroke-width="0.9"/>
<rect x="390.20" y="268.20" width="50.40" height="113.30" fill="none" stroke="#6a6a6a" stroke-width="1"/>
<line x1="387.70" y1="289.75" x2="390.20" y2="289.75" stroke="#3a3a3a" stroke-width="0.9"/>
<text x="384.60" y="292.15" font-size="6.6" text-anchor="end" fill="#3a3a3a">0.5</text>
<line x1="387.70" y1="324.70" x2="390.20" y2="324.70" stroke="#3a3a3a" stroke-width="0.9"/>
<text x="384.60" y="327.10" font-size="6.6" text-anchor="end" fill="#3a3a3a">0</text>
<line x1="387.70" y1="359.65" x2="390.20" y2="359.65" stroke="#3a3a3a" stroke-width="0.9"/>
<text x="384.60" y="362.05" font-size="6.6" text-anchor="end" fill="#3a3a3a">−0.5</text>
<line x1="402.90" y1="381.50" x2="402.90" y2="384.10" stroke="#3a3a3a" stroke-width="0.9"/>
<line x1="427.90" y1="381.50" x2="427.90" y2="384.10" stroke="#3a3a3a" stroke-width="0.9"/>
<text x="402.90" y="392.90" font-size="7" text-anchor="middle">RD</text>
<text x="427.90" y="392.90" font-size="7" text-anchor="middle">pCR</text>
<text x="402.90" y="401.50" font-size="7" text-anchor="middle">(38)</text>
<text x="427.90" y="401.50" font-size="7" text-anchor="middle">(31)</text>
<text x="391.60" y="275.60" font-size="7"><tspan font-style="italic">P</tspan> = 0.02</text>
<text x="449.60" y="243.60" font-size="12" font-weight="bold" fill="#000" stroke="#000" stroke-width="0.45">g</text>
<text x="530.80" y="255.10" font-size="7" text-anchor="middle">Hatzis (1,2)</text>
<text x="530.80" y="263.00" font-size="7.5" text-anchor="middle">Taxane + anthracyclines</text>
<text transform="translate(452.70,324.40) rotate(-90)" font-size="7.2" text-anchor="middle">SLM<tspan dy="-2.7" font-size="4.75">HRD</tspan><tspan dy="2.7"> score</tspan></text>
<line x1="486.10" y1="280.40" x2="486.10" y2="313.80" stroke="#FBB68C" stroke-width="0.9"/>
<line x1="486.10" y1="348.80" x2="486.10" y2="362.40" stroke="#FBB68C" stroke-width="0.9"/>
<line x1="483.90" y1="280.40" x2="488.30" y2="280.40" stroke="#FBB68C" stroke-width="0.9"/>
<line x1="483.90" y1="362.40" x2="488.30" y2="362.40" stroke="#FBB68C" stroke-width="0.9"/>
<rect x="476.05" y="313.80" width="20.10" height="35.00" fill="#FF7F27"/>
<line x1="476.05" y1="334.40" x2="496.15" y2="334.40" stroke="#FBB58A" stroke-width="0.9"/>
<line x1="511.10" y1="281.50" x2="511.10" y2="292.90" stroke="#98CAFF" stroke-width="0.9"/>
<line x1="511.10" y1="321.40" x2="511.10" y2="355.40" stroke="#98CAFF" stroke-width="0.9"/>
<line x1="508.90" y1="281.50" x2="513.30" y2="281.50" stroke="#98CAFF" stroke-width="0.9"/>
<line x1="508.90" y1="355.40" x2="513.30" y2="355.40" stroke="#98CAFF" stroke-width="0.9"/>
<rect x="501.15" y="292.90" width="19.90" height="28.50" fill="#1E90FF"/>
<line x1="501.15" y1="304.90" x2="521.05" y2="304.90" stroke="#8CC6FF" stroke-width="0.9"/>
<rect x="473.30" y="268.20" width="50.30" height="113.30" fill="none" stroke="#6a6a6a" stroke-width="1"/>
<line x1="470.80" y1="289.75" x2="473.30" y2="289.75" stroke="#3a3a3a" stroke-width="0.9"/>
<text x="467.70" y="292.15" font-size="6.6" text-anchor="end" fill="#3a3a3a">0.5</text>
<line x1="470.80" y1="324.70" x2="473.30" y2="324.70" stroke="#3a3a3a" stroke-width="0.9"/>
<text x="467.70" y="327.10" font-size="6.6" text-anchor="end" fill="#3a3a3a">0</text>
<line x1="470.80" y1="359.65" x2="473.30" y2="359.65" stroke="#3a3a3a" stroke-width="0.9"/>
<text x="467.70" y="362.05" font-size="6.6" text-anchor="end" fill="#3a3a3a">−0.5</text>
<line x1="486.10" y1="381.50" x2="486.10" y2="384.10" stroke="#3a3a3a" stroke-width="0.9"/>
<line x1="511.10" y1="381.50" x2="511.10" y2="384.10" stroke="#3a3a3a" stroke-width="0.9"/>
<text x="486.10" y="392.90" font-size="7" text-anchor="middle">RD</text>
<text x="511.10" y="392.90" font-size="7" text-anchor="middle">pCR</text>
<text x="486.10" y="401.50" font-size="7" text-anchor="middle">(249)</text>
<text x="511.10" y="401.50" font-size="7" text-anchor="middle">(57)</text>
<text x="474.70" y="275.60" font-size="7"><tspan font-style="italic">P</tspan> = 3.4 × 10<tspan dy="-2.6" font-size="4.8">−6</tspan></text>
<line x1="556.30" y1="287.80" x2="556.30" y2="314.70" stroke="#FBB68C" stroke-width="0.9"/>
<line x1="556.30" y1="347.70" x2="556.30" y2="360.70" stroke="#FBB68C" stroke-width="0.9"/>
<line x1="554.10" y1="287.80" x2="558.50" y2="287.80" stroke="#FBB68C" stroke-width="0.9"/>
<line x1="554.10" y1="360.70" x2="558.50" y2="360.70" stroke="#FBB68C" stroke-width="0.9"/>
<rect x="546.25" y="314.70" width="20.10" height="33.00" fill="#FF7F27"/>
<line x1="546.25" y1="332.40" x2="566.35" y2="332.40" stroke="#FBB58A" stroke-width="0.9"/>
<line x1="581.20" y1="282.40" x2="581.20" y2="295.50" stroke="#98CAFF" stroke-width="0.9"/>
<line x1="581.20" y1="322.70" x2="581.20" y2="359.60" stroke="#98CAFF" stroke-width="0.9"/>
<line x1="579.00" y1="282.40" x2="583.40" y2="282.40" stroke="#98CAFF" stroke-width="0.9"/>
<line x1="579.00" y1="359.60" x2="583.40" y2="359.60" stroke="#98CAFF" stroke-width="0.9"/>
<rect x="571.25" y="295.50" width="19.90" height="27.20" fill="#1E90FF"/>
<line x1="571.25" y1="308.40" x2="591.15" y2="308.40" stroke="#8CC6FF" stroke-width="0.9"/>
<rect x="543.40" y="268.20" width="50.30" height="113.30" fill="none" stroke="#6a6a6a" stroke-width="1"/>
<line x1="540.90" y1="289.75" x2="543.40" y2="289.75" stroke="#3a3a3a" stroke-width="0.9"/>
<text x="537.80" y="292.15" font-size="6.6" text-anchor="end" fill="#3a3a3a">0.5</text>
<line x1="540.90" y1="324.70" x2="543.40" y2="324.70" stroke="#3a3a3a" stroke-width="0.9"/>
<text x="537.80" y="327.10" font-size="6.6" text-anchor="end" fill="#3a3a3a">0</text>
<line x1="540.90" y1="359.65" x2="543.40" y2="359.65" stroke="#3a3a3a" stroke-width="0.9"/>
<text x="537.80" y="362.05" font-size="6.6" text-anchor="end" fill="#3a3a3a">−0.5</text>
<line x1="556.30" y1="381.50" x2="556.30" y2="384.10" stroke="#3a3a3a" stroke-width="0.9"/>
<line x1="581.20" y1="381.50" x2="581.20" y2="384.10" stroke="#3a3a3a" stroke-width="0.9"/>
<text x="556.30" y="392.90" font-size="7" text-anchor="middle">RD</text>
<text x="581.20" y="392.90" font-size="7" text-anchor="middle">pCR</text>
<text x="556.30" y="401.50" font-size="7" text-anchor="middle">(139)</text>
<text x="581.20" y="401.50" font-size="7" text-anchor="middle">(42)</text>
<text x="544.80" y="275.60" font-size="7"><tspan font-style="italic">P</tspan> = 4.3 × 10<tspan dy="-2.6" font-size="4.8">−6</tspan></text>
<text x="605.60" y="243.20" font-size="12" font-weight="bold" fill="#000" stroke="#000" stroke-width="0.45">h</text>
<text transform="translate(610.50,324.40) rotate(-90)" font-size="7.2" text-anchor="middle">SLM<tspan dy="-2.7" font-size="4.75">HRD</tspan><tspan dy="2.7"> score</tspan></text>
<text x="656.40" y="255.30" font-size="7.5" text-anchor="middle">Horak</text>
<text x="656.40" y="263.60" font-size="7.5" text-anchor="middle">paclitaxel</text>
<line x1="643.80" y1="290.30" x2="643.80" y2="311.00" stroke="#FBB68C" stroke-width="0.9"/>
<line x1="643.80" y1="352.80" x2="643.80" y2="366.30" stroke="#FBB68C" stroke-width="0.9"/>
<line x1="641.60" y1="290.30" x2="646.00" y2="290.30" stroke="#FBB68C" stroke-width="0.9"/>
<line x1="641.60" y1="366.30" x2="646.00" y2="366.30" stroke="#FBB68C" stroke-width="0.9"/>
<rect x="633.75" y="311.00" width="20.10" height="41.80" fill="#FF7F27"/>
<line x1="633.75" y1="327.60" x2="653.85" y2="327.60" stroke="#FBB58A" stroke-width="0.9"/>
<line x1="668.60" y1="280.20" x2="668.60" y2="294.00" stroke="#98CAFF" stroke-width="0.9"/>
<line x1="668.60" y1="326.20" x2="668.60" y2="358.50" stroke="#98CAFF" stroke-width="0.9"/>
<line x1="666.40" y1="280.20" x2="670.80" y2="280.20" stroke="#98CAFF" stroke-width="0.9"/>
<line x1="666.40" y1="358.50" x2="670.80" y2="358.50" stroke="#98CAFF" stroke-width="0.9"/>
<rect x="658.65" y="294.00" width="19.90" height="32.20" fill="#1E90FF"/>
<line x1="658.65" y1="306.40" x2="678.55" y2="306.40" stroke="#8CC6FF" stroke-width="0.9"/>
<rect x="631.30" y="268.20" width="50.20" height="113.30" fill="none" stroke="#6a6a6a" stroke-width="1"/>
<line x1="628.80" y1="289.75" x2="631.30" y2="289.75" stroke="#3a3a3a" stroke-width="0.9"/>
<text x="625.70" y="292.15" font-size="6.6" text-anchor="end" fill="#3a3a3a">0.5</text>
<line x1="628.80" y1="324.70" x2="631.30" y2="324.70" stroke="#3a3a3a" stroke-width="0.9"/>
<text x="625.70" y="327.10" font-size="6.6" text-anchor="end" fill="#3a3a3a">0</text>
<line x1="628.80" y1="359.65" x2="631.30" y2="359.65" stroke="#3a3a3a" stroke-width="0.9"/>
<text x="625.70" y="362.05" font-size="6.6" text-anchor="end" fill="#3a3a3a">−0.5</text>
<line x1="643.80" y1="381.50" x2="643.80" y2="384.10" stroke="#3a3a3a" stroke-width="0.9"/>
<line x1="668.60" y1="381.50" x2="668.60" y2="384.10" stroke="#3a3a3a" stroke-width="0.9"/>
<text x="643.80" y="392.90" font-size="7" text-anchor="middle">RD</text>
<text x="668.60" y="392.90" font-size="7" text-anchor="middle">pCR</text>
<text x="643.80" y="401.50" font-size="7" text-anchor="middle">(87)</text>
<text x="668.60" y="401.50" font-size="7" text-anchor="middle">(34)</text>
<text x="632.70" y="275.60" font-size="7">P = 0.1034</text>
<text x="0.80" y="426.40" font-size="12" font-weight="bold" fill="#000" stroke="#000" stroke-width="0.45">i</text>
<text x="57.20" y="428.60" font-size="7.4" textLength="14" lengthAdjust="spacingAndGlyphs">Low</text>
<text x="503.20" y="428.60" font-size="7.4" text-anchor="end" textLength="15" lengthAdjust="spacingAndGlyphs">High</text>
<text x="277.40" y="428.60" font-size="7.4" text-anchor="middle" textLength="47.2" lengthAdjust="spacingAndGlyphs">SCAN-B TNBC</text>
<rect x="58.00" y="433.10" width="445.20" height="7.80" fill="url(#spec)"/>
<rect x="58.00" y="440.90" width="445.20" height="1.40" fill="#c4c4c4"/>
<line x1="58.00" y1="433.50" x2="503.20" y2="433.50" stroke="#4a4a4a" stroke-width="0.8" opacity="0.55"/>
<rect x="58.00" y="442.70" width="445.20" height="94.09" fill="#333333"/>
<text x="54.20" y="438.90" font-size="7.4" text-anchor="end">SLM<tspan dy="-2.7" font-size="4.88">HRD</tspan><tspan dy="2.7"> score</tspan></text>
<text x="54.20" y="450.30" font-size="7.4" text-anchor="end">HRDetect</text>
<rect x="58.00" y="443.20" width="1.90" height="8.40" fill="#1E90FF"/>
<rect x="59.90" y="443.20" width="2.20" height="8.40" fill="#EE0505"/>
<rect x="62.10" y="443.20" width="35.80" height="8.40" fill="#1E90FF"/>
<rect x="97.90" y="443.20" width="2.00" height="8.40" fill="#EE0505"/>
<rect x="99.90" y="443.20" width="6.20" height="8.40" fill="#1E90FF"/>
<rect x="106.10" y="443.20" width="8.00" height="8.40" fill="#EE0505"/>
<rect x="114.10" y="443.20" width="12.00" height="8.40" fill="#1E90FF"/>
<rect x="126.10" y="443.20" width="3.80" height="8.40" fill="#FFB6C1"/>
<rect x="129.90" y="443.20" width="2.20" height="8.40" fill="#EE0505"/>
<rect x="132.10" y="443.20" width="1.90" height="8.40" fill="#1E90FF"/>
<rect x="134.00" y="443.20" width="4.10" height="8.40" fill="#EE0505"/>
<rect x="138.10" y="443.20" width="2.00" height="8.40" fill="#1E90FF"/>
<rect x="140.10" y="443.20" width="4.10" height="8.40" fill="#EE0505"/>
<rect x="144.20" y="443.20" width="3.80" height="8.40" fill="#1E90FF"/>
<rect x="148.00" y="443.20" width="2.20" height="8.40" fill="#EE0505"/>
<rect x="150.20" y="443.20" width="2.00" height="8.40" fill="#1E90FF"/>
<rect x="152.20" y="443.20" width="1.80" height="8.40" fill="#EE0505"/>
<rect x="154.00" y="443.20" width="2.20" height="8.40" fill="#1E90FF"/>
<rect x="156.20" y="443.20" width="1.60" height="8.40" fill="#FFB6C1"/>
<rect x="157.80" y="443.20" width="6.40" height="8.40" fill="#1E90FF"/>
<rect x="164.20" y="443.20" width="1.90" height="8.40" fill="#EE0505"/>
<rect x="166.10" y="443.20" width="8.00" height="8.40" fill="#1E90FF"/>
<rect x="174.10" y="443.20" width="2.10" height="8.40" fill="#EE0505"/>
<rect x="176.20" y="443.20" width="3.90" height="8.40" fill="#1E90FF"/>
<rect x="180.10" y="443.20" width="6.00" height="8.40" fill="#EE0505"/>
<rect x="186.10" y="443.20" width="4.00" height="8.40" fill="#1E90FF"/>
<rect x="190.10" y="443.20" width="16.20" height="8.40" fill="#EE0505"/>
<rect x="206.30" y="443.20" width="3.80" height="8.40" fill="#1E90FF"/>
<rect x="210.10" y="443.20" width="4.10" height="8.40" fill="#EE0505"/>
<rect x="214.20" y="443.20" width="1.90" height="8.40" fill="#1E90FF"/>
<rect x="216.10" y="443.20" width="1.90" height="8.40" fill="#EE0505"/>
<rect x="218.00" y="443.20" width="4.20" height="8.40" fill="#1E90FF"/>
<rect x="222.20" y="443.20" width="6.00" height="8.40" fill="#EE0505"/>
<rect x="228.20" y="443.20" width="2.10" height="8.40" fill="#1E90FF"/>
<rect x="230.30" y="443.20" width="9.90" height="8.40" fill="#EE0505"/>
<rect x="240.20" y="443.20" width="2.10" height="8.40" fill="#1E90FF"/>
<rect x="242.30" y="443.20" width="2.00" height="8.40" fill="#EE0505"/>
<rect x="244.30" y="443.20" width="1.90" height="8.40" fill="#1E90FF"/>
<rect x="246.20" y="443.20" width="7.90" height="8.40" fill="#EE0505"/>
<rect x="254.10" y="443.20" width="2.20" height="8.40" fill="#1E90FF"/>
<rect x="256.30" y="443.20" width="14.20" height="8.40" fill="#EE0505"/>
<rect x="270.50" y="443.20" width="1.90" height="8.40" fill="#1E90FF"/>
<rect x="272.40" y="443.20" width="6.00" height="8.40" fill="#EE0505"/>
<rect x="278.40" y="443.20" width="1.90" height="8.40" fill="#1E90FF"/>
<rect x="280.30" y="443.20" width="6.40" height="8.40" fill="#EE0505"/>
<rect x="286.70" y="443.20" width="5.70" height="8.40" fill="#1E90FF"/>
<rect x="292.40" y="443.20" width="4.10" height="8.40" fill="#EE0505"/>
<rect x="296.50" y="443.20" width="1.90" height="8.40" fill="#1E90FF"/>
<rect x="298.40" y="443.20" width="2.20" height="8.40" fill="#EE0505"/>
<rect x="300.60" y="443.20" width="2.00" height="8.40" fill="#1E90FF"/>
<rect x="302.60" y="443.20" width="10.00" height="8.40" fill="#EE0505"/>
<rect x="312.60" y="443.20" width="3.90" height="8.40" fill="#1E90FF"/>
<rect x="316.50" y="443.20" width="8.20" height="8.40" fill="#EE0505"/>
<rect x="324.70" y="443.20" width="1.90" height="8.40" fill="#1E90FF"/>
<rect x="326.60" y="443.20" width="14.10" height="8.40" fill="#EE0505"/>
<rect x="340.70" y="443.20" width="4.20" height="8.40" fill="#1E90FF"/>
<rect x="344.90" y="443.20" width="1.90" height="8.40" fill="#EE0505"/>
<rect x="346.80" y="443.20" width="1.90" height="8.40" fill="#1E90FF"/>
<rect x="348.70" y="443.20" width="4.10" height="8.40" fill="#EE0505"/>
<rect x="352.80" y="443.20" width="1.90" height="8.40" fill="#1E90FF"/>
<rect x="354.70" y="443.20" width="2.00" height="8.40" fill="#FFB6C1"/>
<rect x="356.70" y="443.20" width="6.20" height="8.40" fill="#EE0505"/>
<rect x="362.90" y="443.20" width="3.90" height="8.40" fill="#1E90FF"/>
<rect x="366.80" y="443.20" width="2.10" height="8.40" fill="#EE0505"/>
<rect x="368.90" y="443.20" width="2.00" height="8.40" fill="#1E90FF"/>
<rect x="370.90" y="443.20" width="3.80" height="8.40" fill="#EE0505"/>
<rect x="374.70" y="443.20" width="2.20" height="8.40" fill="#1E90FF"/>
<rect x="376.90" y="443.20" width="5.90" height="8.40" fill="#EE0505"/>
<rect x="382.80" y="443.20" width="4.00" height="8.40" fill="#1E90FF"/>
<rect x="386.80" y="443.20" width="12.00" height="8.40" fill="#EE0505"/>
<rect x="398.80" y="443.20" width="2.20" height="8.40" fill="#1E90FF"/>
<rect x="401.00" y="443.20" width="1.90" height="8.40" fill="#FFB6C1"/>
<rect x="402.90" y="443.20" width="14.10" height="8.40" fill="#EE0505"/>
<rect x="417.00" y="443.20" width="1.70" height="8.40" fill="#FFB6C1"/>
<rect x="418.70" y="443.20" width="2.20" height="8.40" fill="#1E90FF"/>
<rect x="420.90" y="443.20" width="3.80" height="8.40" fill="#EE0505"/>
<rect x="424.70" y="443.20" width="2.00" height="8.40" fill="#FFB6C1"/>
<rect x="426.70" y="443.20" width="2.20" height="8.40" fill="#EE0505"/>
<rect x="428.90" y="443.20" width="2.10" height="8.40" fill="#1E90FF"/>
<rect x="431.00" y="443.20" width="9.90" height="8.40" fill="#EE0505"/>
<rect x="440.90" y="443.20" width="2.10" height="8.40" fill="#1E90FF"/>
<rect x="443.00" y="443.20" width="5.80" height="8.40" fill="#EE0505"/>
<rect x="448.80" y="443.20" width="2.00" height="8.40" fill="#FFB6C1"/>
<rect x="450.80" y="443.20" width="22.20" height="8.40" fill="#EE0505"/>
<rect x="473.00" y="443.20" width="2.00" height="8.40" fill="#1E90FF"/>
<rect x="475.00" y="443.20" width="14.00" height="8.40" fill="#EE0505"/>
<rect x="489.00" y="443.20" width="2.00" height="8.40" fill="#1E90FF"/>
<rect x="491.00" y="443.20" width="1.80" height="8.40" fill="#EE0505"/>
<rect x="492.80" y="443.20" width="2.20" height="8.40" fill="#FFB6C1"/>
<rect x="495.00" y="443.20" width="6.10" height="8.40" fill="#EE0505"/>
<rect x="501.10" y="443.20" width="2.10" height="8.40" fill="#FFB6C1"/>
<rect x="506.00" y="443.65" width="37.90" height="7.65" fill="#C4C4C4"/>
<text x="54.20" y="459.71" font-size="6.95" text-anchor="end"><tspan font-style="italic">TP53</tspan> MT</text>
<rect x="58.00" y="452.61" width="445.20" height="8.40" fill="#BEBEBE"/>
<path d="M61.80,452.61h2.20v8.40h-2.20zM70.00,452.61h2.00v8.40h-2.00zM96.10,452.61h1.80v8.40h-1.80zM108.10,452.61h1.90v8.40h-1.90zM111.90,452.61h2.00v8.40h-2.00zM127.70,452.61h2.20v8.40h-2.20zM134.00,452.61h2.00v8.40h-2.00zM140.10,452.61h1.90v8.40h-1.90zM150.20,452.61h6.00v8.40h-6.00zM160.00,452.61h4.20v8.40h-4.20zM168.20,452.61h5.90v8.40h-5.90zM176.20,452.61h1.90v8.40h-1.90zM180.10,452.61h1.90v8.40h-1.90zM184.10,452.61h7.70v8.40h-7.70zM196.10,452.61h7.70v8.40h-7.70zM206.30,452.61h1.80v8.40h-1.80zM214.20,452.61h1.90v8.40h-1.90zM218.00,452.61h2.20v8.40h-2.20zM222.20,452.61h1.80v8.40h-1.80zM226.20,452.61h3.80v8.40h-3.80zM232.20,452.61h9.90v8.40h-9.90zM244.30,452.61h3.80v8.40h-3.80zM250.30,452.61h1.90v8.40h-1.90zM254.10,452.61h2.20v8.40h-2.20zM258.30,452.61h14.10v8.40h-14.10zM274.30,452.61h2.20v8.40h-2.20zM278.40,452.61h4.10v8.40h-4.10zM284.50,452.61h12.00v8.40h-12.00zM298.40,452.61h42.30v8.40h-42.30zM342.70,452.61h10.10v8.40h-10.10zM354.70,452.61h2.00v8.40h-2.00zM358.50,452.61h14.30v8.40h-14.30zM374.60,452.61h2.30v8.40h-2.30zM378.80,452.61h4.00v8.40h-4.00zM388.70,452.61h12.00v8.40h-12.00zM402.90,452.61h16.10v8.40h-16.10zM420.90,452.61h1.90v8.40h-1.90zM424.90,452.61h6.10v8.40h-6.10zM432.90,452.61h15.90v8.40h-15.90zM450.80,452.61h2.00v8.40h-2.00zM456.70,452.61h34.30v8.40h-34.30zM492.80,452.61h10.40v8.40h-10.40z" fill="#000"/>
<rect x="506.00" y="453.06" width="48.30" height="7.65" fill="#C4C4C4"/>
<text x="54.20" y="469.12" font-size="6.95" text-anchor="end"><tspan font-style="italic">RB1</tspan> MT</text>
<rect x="58.00" y="462.02" width="445.20" height="8.40" fill="#BEBEBE"/>
<path d="M136.00,462.02h1.90v8.40h-1.90zM156.20,462.02h1.60v8.40h-1.60zM172.10,462.02h2.00v8.40h-2.00zM176.20,462.02h1.90v8.40h-1.90zM184.10,462.02h2.00v8.40h-2.00zM216.10,462.02h1.90v8.40h-1.90zM246.20,462.02h1.90v8.40h-1.90zM254.10,462.02h2.00v8.40h-2.00zM278.40,462.02h4.10v8.40h-4.10zM286.40,462.02h2.10v8.40h-2.10zM304.40,462.02h2.20v8.40h-2.20zM316.50,462.02h2.20v8.40h-2.20zM320.60,462.02h4.10v8.40h-4.10zM326.90,462.02h1.80v8.40h-1.80zM335.10,462.02h3.70v8.40h-3.70zM340.50,462.02h2.20v8.40h-2.20zM344.60,462.02h1.90v8.40h-1.90zM352.50,462.02h6.40v8.40h-6.40zM362.90,462.02h3.90v8.40h-3.90zM368.70,462.02h1.90v8.40h-1.90zM375.00,462.02h1.90v8.40h-1.90zM378.80,462.02h2.20v8.40h-2.20zM388.70,462.02h6.00v8.40h-6.00zM396.90,462.02h1.90v8.40h-1.90zM408.40,462.02h2.60v8.40h-2.60zM419.00,462.02h1.90v8.40h-1.90zM424.90,462.02h4.00v8.40h-4.00zM431.00,462.02h1.90v8.40h-1.90zM434.80,462.02h18.00v8.40h-18.00zM454.80,462.02h2.00v8.40h-2.00zM458.90,462.02h3.90v8.40h-3.90zM466.90,462.02h6.00v8.40h-6.00zM477.00,462.02h8.00v8.40h-8.00zM491.00,462.02h4.00v8.40h-4.00zM497.00,462.02h2.20v8.40h-2.20z" fill="#000"/>
<rect x="506.00" y="462.47" width="45.20" height="7.65" fill="#C4C4C4"/>
<text x="54.20" y="478.53" font-size="6.95" text-anchor="end"><tspan font-style="italic">MCL1</tspan> Amp</text>
<rect x="58.00" y="471.43" width="445.20" height="8.40" fill="#BEBEBE"/>
<path d="M129.90,471.43h2.20v8.40h-2.20zM154.00,471.43h2.20v8.40h-2.20zM204.30,471.43h3.80v8.40h-3.80zM220.20,471.43h2.00v8.40h-2.00zM232.20,471.43h2.00v8.40h-2.00zM248.10,471.43h4.10v8.40h-4.10zM260.10,471.43h1.90v8.40h-1.90zM268.30,471.43h2.20v8.40h-2.20zM274.60,471.43h1.90v8.40h-1.90zM298.40,471.43h4.20v8.40h-4.20zM312.60,471.43h1.90v8.40h-1.90zM316.50,471.43h2.20v8.40h-2.20zM330.70,471.43h2.00v8.40h-2.00zM335.10,471.43h1.90v8.40h-1.90zM364.80,471.43h2.00v8.40h-2.00zM396.90,471.43h1.90v8.40h-1.90zM402.90,471.43h2.00v8.40h-2.00zM416.80,471.43h2.20v8.40h-2.20zM438.90,471.43h2.00v8.40h-2.00zM460.90,471.43h4.00v8.40h-4.00zM466.80,471.43h4.20v8.40h-4.20zM479.20,471.43h1.80v8.40h-1.80zM483.00,471.43h2.00v8.40h-2.00zM486.80,471.43h2.20v8.40h-2.20zM492.80,471.43h4.20v8.40h-4.20zM498.90,471.43h2.20v8.40h-2.20z" fill="#000"/>
<rect x="506.00" y="471.88" width="12.50" height="7.65" fill="#C4C4C4"/>
<text x="54.20" y="487.94" font-size="6.95" text-anchor="end"><tspan font-style="italic">PTEN</tspan> MT</text>
<rect x="58.00" y="480.84" width="445.20" height="8.40" fill="#BEBEBE"/>
<path d="M61.80,480.84h2.20v8.40h-2.20zM70.00,480.84h2.00v8.40h-2.00zM86.00,480.84h1.80v8.40h-1.80zM108.10,480.84h1.90v8.40h-1.90zM127.70,480.84h2.20v8.40h-2.20zM148.00,480.84h2.20v8.40h-2.20zM152.20,480.84h1.80v8.40h-1.80zM156.20,480.84h1.60v8.40h-1.60zM160.00,480.84h2.20v8.40h-2.20zM164.20,480.84h4.00v8.40h-4.00zM172.10,480.84h2.00v8.40h-2.00zM198.20,480.84h3.90v8.40h-3.90zM206.30,480.84h1.80v8.40h-1.80zM230.30,480.84h1.90v8.40h-1.90zM234.20,480.84h1.90v8.40h-1.90zM250.30,480.84h1.90v8.40h-1.90zM254.10,480.84h2.00v8.40h-2.00zM260.10,480.84h1.90v8.40h-1.90zM264.00,480.84h2.00v8.40h-2.00zM284.70,480.84h3.80v8.40h-3.80zM292.40,480.84h4.40v8.40h-4.40zM302.80,480.84h1.60v8.40h-1.60zM306.60,480.84h2.00v8.40h-2.00zM322.50,480.84h2.20v8.40h-2.20zM336.70,480.84h3.80v8.40h-3.80zM342.70,480.84h1.90v8.40h-1.90zM358.90,480.84h1.80v8.40h-1.80zM366.80,480.84h1.90v8.40h-1.90zM372.80,480.84h1.80v8.40h-1.80zM378.80,480.84h2.20v8.40h-2.20zM393.00,480.84h2.00v8.40h-2.00zM398.80,480.84h1.90v8.40h-1.90zM408.80,480.84h2.20v8.40h-2.20zM414.90,480.84h1.90v8.40h-1.90zM431.00,480.84h3.80v8.40h-3.80zM436.80,480.84h2.10v8.40h-2.10zM442.80,480.84h6.00v8.40h-6.00zM450.80,480.84h2.00v8.40h-2.00zM456.80,480.84h2.10v8.40h-2.10zM460.80,480.84h2.00v8.40h-2.00zM464.80,480.84h4.00v8.40h-4.00zM475.00,480.84h2.00v8.40h-2.00zM483.00,480.84h3.80v8.40h-3.80zM491.00,480.84h1.80v8.40h-1.80zM497.00,480.84h1.90v8.40h-1.90z" fill="#000"/>
<rect x="506.00" y="481.29" width="6.30" height="7.65" fill="#C4C4C4"/>
<text x="54.20" y="497.35" font-size="6.95" text-anchor="end"><tspan font-style="italic">MYC</tspan> Amp</text>
<rect x="58.00" y="490.25" width="445.20" height="8.40" fill="#BEBEBE"/>
<path d="M111.90,490.25h3.90v8.40h-3.90zM118.00,490.25h1.90v8.40h-1.90zM124.00,490.25h2.00v8.40h-2.00zM136.00,490.25h1.90v8.40h-1.90zM152.20,490.25h1.80v8.40h-1.80zM172.10,490.25h2.00v8.40h-2.00zM184.10,490.25h2.00v8.40h-2.00zM196.10,490.25h2.00v8.40h-2.00zM202.10,490.25h1.90v8.40h-1.90zM206.30,490.25h1.80v8.40h-1.80zM224.00,490.25h2.20v8.40h-2.20zM228.20,490.25h2.10v8.40h-2.10zM234.20,490.25h1.90v8.40h-1.90zM250.30,490.25h1.90v8.40h-1.90zM260.70,490.25h7.60v8.40h-7.60zM282.50,490.25h3.90v8.40h-3.90zM290.20,490.25h2.20v8.40h-2.20zM294.60,490.25h9.80v8.40h-9.80zM306.60,490.25h1.60v8.40h-1.60zM325.00,490.25h5.70v8.40h-5.70zM340.70,490.25h2.00v8.40h-2.00zM350.90,490.25h3.80v8.40h-3.80zM358.90,490.25h4.00v8.40h-4.00zM366.80,490.25h1.90v8.40h-1.90zM396.90,490.25h3.80v8.40h-3.80zM402.90,490.25h2.00v8.40h-2.00zM420.90,490.25h4.00v8.40h-4.00zM426.90,490.25h6.00v8.40h-6.00zM435.10,490.25h1.90v8.40h-1.90zM438.90,490.25h1.90v8.40h-1.90zM446.90,490.25h1.90v8.40h-1.90zM452.80,490.25h2.00v8.40h-2.00zM460.80,490.25h2.00v8.40h-2.00zM467.00,490.25h2.00v8.40h-2.00zM475.10,490.25h1.90v8.40h-1.90zM481.10,490.25h1.90v8.40h-1.90z" fill="#000"/>
<rect x="506.00" y="490.70" width="5.50" height="7.65" fill="#C4C4C4"/>
<text x="54.20" y="506.76" font-size="6.95" text-anchor="end"><tspan font-style="italic">EGFR</tspan> Amp</text>
<rect x="58.00" y="499.66" width="445.20" height="8.40" fill="#BEBEBE"/>
<path d="M80.20,499.66h1.80v8.40h-1.80zM84.00,499.66h2.00v8.40h-2.00zM146.10,499.66h1.90v8.40h-1.90zM162.20,499.66h2.00v8.40h-2.00zM168.20,499.66h1.90v8.40h-1.90zM232.20,499.66h2.00v8.40h-2.00zM244.30,499.66h1.90v8.40h-1.90zM290.20,499.66h2.20v8.40h-2.20zM294.30,499.66h1.90v8.40h-1.90zM326.90,499.66h1.80v8.40h-1.80zM330.70,499.66h2.00v8.40h-2.00zM354.70,499.66h2.00v8.40h-2.00zM362.90,499.66h1.90v8.40h-1.90z" fill="#000"/>
<rect x="506.00" y="500.11" width="2.70" height="7.65" fill="#C4C4C4"/>
<text x="54.20" y="516.17" font-size="6.95" text-anchor="end"><tspan font-style="italic">CCNE1</tspan> Amp</text>
<rect x="58.00" y="509.07" width="445.20" height="8.40" fill="#BEBEBE"/>
<path d="M128.10,509.07h1.80v8.40h-1.80zM150.20,509.07h1.80v8.40h-1.80zM214.20,509.07h1.90v8.40h-1.90zM228.20,509.07h2.10v8.40h-2.10zM240.20,509.07h2.10v8.40h-2.10zM256.30,509.07h2.00v8.40h-2.00zM290.20,509.07h2.20v8.40h-2.20zM318.70,509.07h1.90v8.40h-1.90zM342.70,509.07h1.90v8.40h-1.90zM358.90,509.07h1.80v8.40h-1.80zM396.90,509.07h1.90v8.40h-1.90zM428.90,509.07h2.10v8.40h-2.10zM454.80,509.07h2.00v8.40h-2.00zM473.00,509.07h2.00v8.40h-2.00zM485.20,509.07h1.80v8.40h-1.80z" fill="#000"/>
<rect x="506.00" y="509.52" width="2.70" height="7.65" fill="#C4C4C4"/>
<text x="54.20" y="525.58" font-size="6.95" text-anchor="end"><tspan font-style="italic">TERC</tspan> Amp</text>
<rect x="58.00" y="518.48" width="445.20" height="8.40" fill="#BEBEBE"/>
<path d="M148.00,518.48h2.00v8.40h-2.00zM184.10,518.48h2.00v8.40h-2.00zM234.20,518.48h1.90v8.40h-1.90zM272.70,518.48h3.80v8.40h-3.80zM286.40,518.48h1.90v8.40h-1.90zM292.40,518.48h1.90v8.40h-1.90zM298.40,518.48h2.20v8.40h-2.20zM360.70,518.48h2.20v8.40h-2.20zM445.00,518.48h1.90v8.40h-1.90zM454.80,518.48h2.00v8.40h-2.00zM497.00,518.48h1.90v8.40h-1.90z" fill="#000"/>
<rect x="506.00" y="518.93" width="1.80" height="7.65" fill="#C4C4C4"/>
<text x="54.20" y="534.99" font-size="6.95" text-anchor="end"><tspan font-style="italic">CDKN2A</tspan> MT</text>
<rect x="58.00" y="527.89" width="445.20" height="8.40" fill="#BEBEBE"/>
<path d="M88.20,527.89h1.80v8.40h-1.80zM102.10,527.89h1.80v8.40h-1.80zM116.10,527.89h1.90v8.40h-1.90zM138.10,527.89h3.90v8.40h-3.90zM180.10,527.89h1.90v8.40h-1.90zM190.10,527.89h1.90v8.40h-1.90zM284.50,527.89h1.90v8.40h-1.90zM292.40,527.89h3.80v8.40h-3.80zM302.80,527.89h1.80v8.40h-1.80zM326.90,527.89h1.80v8.40h-1.80zM387.00,527.89h1.90v8.40h-1.90zM404.90,527.89h2.00v8.40h-2.00zM414.90,527.89h1.90v8.40h-1.90zM462.80,527.89h2.20v8.40h-2.20zM466.90,527.89h1.90v8.40h-1.90zM478.90,527.89h2.10v8.40h-2.10zM489.00,527.89h2.00v8.40h-2.00z" fill="#000"/>
<rect x="506.00" y="528.34" width="0.60" height="7.65" fill="#C4C4C4"/>
<path d="M59.878,443.20v93.09M61.757,443.20v93.09M63.635,443.20v93.09M65.514,443.20v93.09M67.392,443.20v93.09M69.271,443.20v93.09M71.149,443.20v93.09M73.028,443.20v93.09M74.906,443.20v93.09M76.785,443.20v93.09M78.663,443.20v93.09M80.542,443.20v93.09M82.420,443.20v93.09M84.299,443.20v93.09M86.177,443.20v93.09M88.056,443.20v93.09M89.934,443.20v93.09M91.813,443.20v93.09M93.691,443.20v93.09M95.570,443.20v93.09M97.448,443.20v93.09M99.327,443.20v93.09M101.205,443.20v93.09M103.084,443.20v93.09M104.962,443.20v93.09M106.841,443.20v93.09M108.719,443.20v93.09M110.597,443.20v93.09M112.476,443.20v93.09M114.354,443.20v93.09M116.233,443.20v93.09M118.111,443.20v93.09M119.990,443.20v93.09M121.868,443.20v93.09M123.747,443.20v93.09M125.625,443.20v93.09M127.504,443.20v93.09M129.382,443.20v93.09M131.261,443.20v93.09M133.139,443.20v93.09M135.018,443.20v93.09M136.896,443.20v93.09M138.775,443.20v93.09M140.653,443.20v93.09M142.532,443.20v93.09M144.410,443.20v93.09M146.289,443.20v93.09M148.167,443.20v93.09M150.046,443.20v93.09M151.924,443.20v93.09M153.803,443.20v93.09M155.681,443.20v93.09M157.559,443.20v93.09M159.438,443.20v93.09M161.316,443.20v93.09M163.195,443.20v93.09M165.073,443.20v93.09M166.952,443.20v93.09M168.830,443.20v93.09M170.709,443.20v93.09M172.587,443.20v93.09M174.466,443.20v93.09M176.344,443.20v93.09M178.223,443.20v93.09M180.101,443.20v93.09M181.980,443.20v93.09M183.858,443.20v93.09M185.737,443.20v93.09M187.615,443.20v93.09M189.494,443.20v93.09M191.372,443.20v93.09M193.251,443.20v93.09M195.129,443.20v93.09M197.008,443.20v93.09M198.886,443.20v93.09M200.765,443.20v93.09M202.643,443.20v93.09M204.522,443.20v93.09M206.400,443.20v93.09M208.278,443.20v93.09M210.157,443.20v93.09M212.035,443.20v93.09M213.914,443.20v93.09M215.792,443.20v93.09M217.671,443.20v93.09M219.549,443.20v93.09M221.428,443.20v93.09M223.306,443.20v93.09M225.185,443.20v93.09M227.063,443.20v93.09M228.942,443.20v93.09M230.820,443.20v93.09M232.699,443.20v93.09M234.577,443.20v93.09M236.456,443.20v93.09M238.334,443.20v93.09M240.213,443.20v93.09M242.091,443.20v93.09M243.970,443.20v93.09M245.848,443.20v93.09M247.727,443.20v93.09M249.605,443.20v93.09M251.484,443.20v93.09M253.362,443.20v93.09M255.241,443.20v93.09M257.119,443.20v93.09M258.997,443.20v93.09M260.876,443.20v93.09M262.754,443.20v93.09M264.633,443.20v93.09M266.511,443.20v93.09M268.390,443.20v93.09M270.268,443.20v93.09M272.147,443.20v93.09M274.025,443.20v93.09M275.904,443.20v93.09M277.782,443.20v93.09M279.661,443.20v93.09M281.539,443.20v93.09M283.418,443.20v93.09M285.296,443.20v93.09M287.175,443.20v93.09M289.053,443.20v93.09M290.932,443.20v93.09M292.810,443.20v93.09M294.689,443.20v93.09M296.567,443.20v93.09M298.446,443.20v93.09M300.324,443.20v93.09M302.203,443.20v93.09M304.081,443.20v93.09M305.959,443.20v93.09M307.838,443.20v93.09M309.716,443.20v93.09M311.595,443.20v93.09M313.473,443.20v93.09M315.352,443.20v93.09M317.230,443.20v93.09M319.109,443.20v93.09M320.987,443.20v93.09M322.866,443.20v93.09M324.744,443.20v93.09M326.623,443.20v93.09M328.501,443.20v93.09M330.380,443.20v93.09M332.258,443.20v93.09M334.137,443.20v93.09M336.015,443.20v93.09M337.894,443.20v93.09M339.772,443.20v93.09M341.651,443.20v93.09M343.529,443.20v93.09M345.408,443.20v93.09M347.286,443.20v93.09M349.165,443.20v93.09M351.043,443.20v93.09M352.922,443.20v93.09M354.800,443.20v93.09M356.678,443.20v93.09M358.557,443.20v93.09M360.435,443.20v93.09M362.314,443.20v93.09M364.192,443.20v93.09M366.071,443.20v93.09M367.949,443.20v93.09M369.828,443.20v93.09M371.706,443.20v93.09M373.585,443.20v93.09M375.463,443.20v93.09M377.342,443.20v93.09M379.220,443.20v93.09M381.099,443.20v93.09M382.977,443.20v93.09M384.856,443.20v93.09M386.734,443.20v93.09M388.613,443.20v93.09M390.491,443.20v93.09M392.370,443.20v93.09M394.248,443.20v93.09M396.127,443.20v93.09M398.005,443.20v93.09M399.884,443.20v93.09M401.762,443.20v93.09M403.641,443.20v93.09M405.519,443.20v93.09M407.397,443.20v93.09M409.276,443.20v93.09M411.154,443.20v93.09M413.033,443.20v93.09M414.911,443.20v93.09M416.790,443.20v93.09M418.668,443.20v93.09M420.547,443.20v93.09M422.425,443.20v93.09M424.304,443.20v93.09M426.182,443.20v93.09M428.061,443.20v93.09M429.939,443.20v93.09M431.818,443.20v93.09M433.696,443.20v93.09M435.575,443.20v93.09M437.453,443.20v93.09M439.332,443.20v93.09M441.210,443.20v93.09M443.089,443.20v93.09M444.967,443.20v93.09M446.846,443.20v93.09M448.724,443.20v93.09M450.603,443.20v93.09M452.481,443.20v93.09M454.359,443.20v93.09M456.238,443.20v93.09M458.116,443.20v93.09M459.995,443.20v93.09M461.873,443.20v93.09M463.752,443.20v93.09M465.630,443.20v93.09M467.509,443.20v93.09M469.387,443.20v93.09M471.266,443.20v93.09M473.144,443.20v93.09M475.023,443.20v93.09M476.901,443.20v93.09M478.780,443.20v93.09M480.658,443.20v93.09M482.537,443.20v93.09M484.415,443.20v93.09M486.294,443.20v93.09M488.172,443.20v93.09M490.051,443.20v93.09M491.929,443.20v93.09M493.808,443.20v93.09M495.686,443.20v93.09M497.565,443.20v93.09M499.443,443.20v93.09M501.322,443.20v93.09" stroke="#000000" stroke-width="0.4" opacity="0.16" fill="none"/>
<line x1="511.60" y1="441.60" x2="511.60" y2="536.60" stroke="#E64848" stroke-width="1.0" stroke-dasharray="2.4,1.4"/>
<line x1="506.00" y1="537.40" x2="549.50" y2="537.40" stroke="#444" stroke-width="0.7"/>
<line x1="506.00" y1="537.40" x2="506.00" y2="539.00" stroke="#444" stroke-width="0.6"/>
<text x="506.00" y="546.80" font-size="6.2" text-anchor="middle" fill="#3a3a3a">0</text>
<line x1="514.69" y1="537.40" x2="514.69" y2="539.00" stroke="#444" stroke-width="0.6"/>
<text x="514.69" y="546.80" font-size="6.2" text-anchor="middle" fill="#3a3a3a">2</text>
<line x1="523.38" y1="537.40" x2="523.38" y2="539.00" stroke="#444" stroke-width="0.6"/>
<text x="523.38" y="546.80" font-size="6.2" text-anchor="middle" fill="#3a3a3a">4</text>
<line x1="532.07" y1="537.40" x2="532.07" y2="539.00" stroke="#444" stroke-width="0.6"/>
<text x="532.07" y="546.80" font-size="6.2" text-anchor="middle" fill="#3a3a3a">6</text>
<line x1="540.76" y1="537.40" x2="540.76" y2="539.00" stroke="#444" stroke-width="0.6"/>
<text x="540.76" y="546.80" font-size="6.2" text-anchor="middle" fill="#3a3a3a">8</text>
<line x1="549.45" y1="537.40" x2="549.45" y2="539.00" stroke="#444" stroke-width="0.6"/>
<text x="549.45" y="546.80" font-size="6.2" text-anchor="middle" fill="#3a3a3a">10</text>
<text x="527.50" y="556.90" font-size="7" text-anchor="middle">−log<tspan dy="1.8" font-size="5">10</tspan><tspan dy="-1.8">P</tspan></text>
<text x="156.80" y="546.70" font-size="7.4" text-anchor="middle" textLength="32.2" lengthAdjust="spacingAndGlyphs">HRDetect</text>
<rect x="83.80" y="552.80" width="7.00" height="6.80" fill="#1E90FF"/>
<text x="93.90" y="559.00" font-size="7.4" textLength="13.5" lengthAdjust="spacingAndGlyphs">Low</text>
<rect x="116.00" y="552.80" width="7.00" height="6.80" fill="#FFB6C1"/>
<text x="126.60" y="559.00" font-size="7.4" textLength="42.9" lengthAdjust="spacingAndGlyphs">Intermediate</text>
<rect x="181.90" y="552.80" width="7.00" height="6.80" fill="#EE0505"/>
<text x="192.60" y="559.00" font-size="7.4" textLength="16.2" lengthAdjust="spacingAndGlyphs">High</text>
<text x="354.60" y="546.50" font-size="7.4" text-anchor="middle" textLength="29.6" lengthAdjust="spacingAndGlyphs">MT/Amp</text>
<rect x="322.80" y="553.80" width="6.80" height="6.60" fill="#BDBDBD"/>
<text x="334.20" y="559.90" font-size="7.4" textLength="10.6" lengthAdjust="spacingAndGlyphs">WT</text>
<rect x="357.70" y="553.80" width="6.80" height="6.60" fill="#000"/>
<text x="368.30" y="559.90" font-size="7.4" textLength="24.7" lengthAdjust="spacingAndGlyphs">Altered</text>
<text x="585.60" y="424.60" font-size="12" font-weight="bold" fill="#000" stroke="#000" stroke-width="0.45">j</text>
<text x="644.00" y="423.80" font-size="7" text-anchor="middle">SCAN-B TNBC (HRD<tspan dy="-2.6" font-size="4.8">+</tspan><tspan dy="2.6">)</tspan></text>
<path d="M630.60,445.50V463.90M630.60,505.00V541.30" stroke="#6e6e6e" stroke-width="0.8" stroke-dasharray="2.2,1.4" fill="none"/>
<line x1="625.30" y1="445.50" x2="635.90" y2="445.50" stroke="#6e6e6e" stroke-width="0.8"/>
<line x1="625.30" y1="541.30" x2="635.90" y2="541.30" stroke="#6e6e6e" stroke-width="0.8"/>
<rect x="619.70" y="463.90" width="21.80" height="41.10" fill="#fff" stroke="#6e6e6e" stroke-width="0.8"/>
<line x1="619.70" y1="484.30" x2="641.50" y2="484.30" stroke="#3c3c3c" stroke-width="1.2"/>
<path d="M657.70,445.50V453.40M657.70,469.20V489.10" stroke="#6e6e6e" stroke-width="0.8" stroke-dasharray="2.2,1.4" fill="none"/>
<line x1="652.30" y1="445.50" x2="663.10" y2="445.50" stroke="#6e6e6e" stroke-width="0.8"/>
<line x1="652.30" y1="489.10" x2="663.10" y2="489.10" stroke="#6e6e6e" stroke-width="0.8"/>
<rect x="646.80" y="453.40" width="21.90" height="15.80" fill="#fff" stroke="#6e6e6e" stroke-width="0.8"/>
<line x1="646.80" y1="457.80" x2="668.70" y2="457.80" stroke="#3c3c3c" stroke-width="1.2"/>
<circle cx="657.6" cy="501.5" r="1.1" fill="#111"/>
<circle cx="657.6" cy="509.5" r="1.1" fill="#111"/>
<circle cx="657.6" cy="520.1" r="1.1" fill="#111"/>
<rect x="616.70" y="429.40" width="54.60" height="119.90" fill="none" stroke="#6a6a6a" stroke-width="1"/>
<line x1="614.20" y1="448.70" x2="616.70" y2="448.70" stroke="#3a3a3a" stroke-width="0.9"/>
<text x="611.70" y="451.10" font-size="6.6" text-anchor="end" fill="#3a3a3a">0.5</text>
<line x1="614.20" y1="487.20" x2="616.70" y2="487.20" stroke="#3a3a3a" stroke-width="0.9"/>
<text x="611.70" y="489.60" font-size="6.6" text-anchor="end" fill="#3a3a3a">0</text>
<line x1="614.20" y1="525.70" x2="616.70" y2="525.70" stroke="#3a3a3a" stroke-width="0.9"/>
<text x="611.70" y="528.10" font-size="6.6" text-anchor="end" fill="#3a3a3a">−0.5</text>
<line x1="630.60" y1="549.30" x2="630.60" y2="551.90" stroke="#3a3a3a" stroke-width="0.9"/>
<line x1="657.70" y1="549.30" x2="657.70" y2="551.90" stroke="#3a3a3a" stroke-width="0.9"/>
<text x="619.30" y="437.40" font-size="7">P = 7.3 × 10<tspan dy="-2.6" font-size="4.8">−7</tspan></text>
<text x="629.00" y="560.40" font-size="6.8" text-anchor="middle"><tspan font-style="italic">RB1</tspan> WT</text>
<text x="658.60" y="560.40" font-size="6.8" text-anchor="middle"><tspan font-style="italic">RB1</tspan> MT</text>
<text x="630.60" y="569.20" font-size="7" text-anchor="middle">(91)</text>
<text x="657.70" y="569.20" font-size="7" text-anchor="middle">(41)</text>
<text transform="translate(596.40,489.50) rotate(-90)" font-size="7.2" text-anchor="middle">SLM<tspan dy="-2.7" font-size="4.75">HRD</tspan><tspan dy="2.7"> score</tspan></text>
</svg>
</body></html>
